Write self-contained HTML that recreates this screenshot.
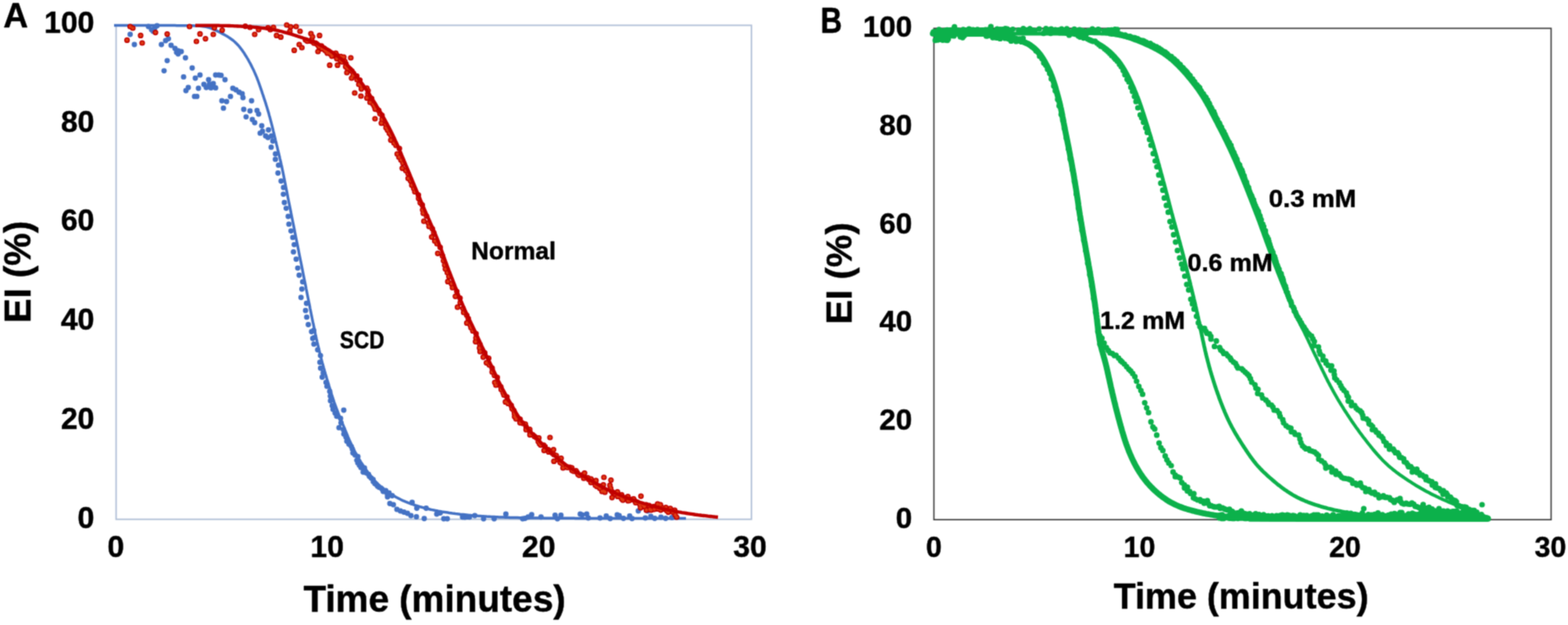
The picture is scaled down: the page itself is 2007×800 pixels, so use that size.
<!DOCTYPE html>
<html lang="en">
<head>
<meta charset="utf-8">
<title>EI (%) versus Time (minutes)</title>
<style>
html,body{margin:0;padding:0;background:#fff;}
body{width:2007px;height:800px;overflow:hidden;}
svg{display:block;}
text{font-family:"Liberation Sans",sans-serif;font-weight:700;fill:#000;stroke:#000;stroke-width:0.5px;stroke-linejoin:round;}
</style>
</head>
<body>
<svg width="2007" height="800" viewBox="0 0 2007 800" role="img" aria-label="Panel A: EI (%) versus time in minutes for SCD and Normal. Panel B: EI (%) versus time for 0.3, 0.6 and 1.2 mM.">
<defs><filter id="soft" x="0" y="0" width="100%" height="100%" filterUnits="userSpaceOnUse" color-interpolation-filters="sRGB"><feConvolveMatrix order="3" kernelMatrix="0.0400 0.1200 0.0400 0.1200 0.3600 0.1200 0.0400 0.1200 0.0400" edgeMode="duplicate" preserveAlpha="true"/></filter></defs>
<g id="all" filter="url(#soft)">
<rect width="2007" height="800" fill="#fff"/>
<g id="plots">
<rect x="148.6" y="32.4" width="813.2" height="632.3" fill="none" stroke="#b1c0d7" stroke-width="1.9"/>
<path d="M166.6 44h0M172 57h0M190 34h0M194 38h0M198 36h0M201 33h0M196 40h0M206.6 57h0M212 52h0M215.6 49.6h0M219 58h0M224 62h0M228 65h0M228 69h0M232 66h0M226 67h0M237.4 74h0M214 77.6h0M210 90.6h0M246 87h0M235 98.4h0M250 100h0M256 96h0M276 96h0M280 96h0M283 96.4h0M288 102h0M267 102h0M261 108h0M268 108h0M273 107h0M264 112h0M270 112.4h0M276 112.4h0M254 113h0M241 112h0M238 116h0M249 123.4h0M252 123.4h0M298 113h0M302 115h0M306 118h0M310 120h0M311 125h0M295 123.4h0M284 129h0M290 130h0M322 129h0M286 138.4h0M312 140h0M320 142h0M329 141.4h0M331 146h0M315 149.6h0M323 153h0M326 157h0M335 161h0M336 168h0M333 170.4h0M340 174h0M343 176h0M343.6 166.2h0M347.5 173.9h0M349.2 180.5h0M347.1 188.4h0M352.6 196.9h0M352.5 203.9h0M356.5 211.4h0M355.8 221.5h0M359.8 231.8h0M362.9 240h0M362.7 248.6h0M364 259.2h0M366.3 266.6h0M368.9 277h0M369.8 286.9h0M372.5 295.6h0M374.8 303.9h0M376.6 313.1h0M375.6 322.4h0M379.1 331.8h0M381.1 343.1h0M382.9 352.2h0M387.4 360.7h0M386.4 370h0M385.3 380.8h0M392.3 388.3h0M391.1 397.4h0M392.6 405.9h0M394.6 415.5h0M398.8 424.5h0M400.3 433.2h0M401.5 423h0M402 432.1h0M401.8 440.4h0M406.6 447.8h0M410.2 455.1h0M409.5 463.7h0M410.3 471.2h0M413.7 477.3h0M412.4 482.8h0M417.3 489.5h0M418.5 494.4h0M422 501h0M422.8 506.9h0M423 512.9h0M425.2 519.3h0M426.3 524h0M428.9 528.8h0M430.9 532.7h0M435.9 535.5h0M436.5 541.3h0M433.9 547.4h0M439.6 550h0M440.1 555.6h0M442.8 559.4h0M443.9 564.7h0M446.6 568.5h0M449.7 571.6h0M450.9 574.8h0M451.7 579.8h0M454.5 582.4h0M458.1 584.4h0M456.7 589.1h0M458 592.6h0M460 595.4h0M462 598.4h0M466.5 598.9h0M464.8 604.2h0M468.8 605.2h0M471.7 607.3h0M472.8 609.7h0M475.1 611.9h0M477.5 613.6h0M477.8 616.5h0M479.8 619h0M481.9 620.4h0M483.4 622.5h0M485.3 623.7h0M487.6 624.6h0M489.2 626.2h0M490.5 629h0M493.7 627.9h0M494.9 630.2h0M495.9 633.2h0M496 636h0M499 644.5h0M503.5 646h0M508 652h0M512.5 654h0M517 655.5h0M521.5 657h0M526 660h0M533 661.5h0M543 663.7h0M568 664h0M572.5 664h0M498 631h0M502 634.5h0M527.5 643h0M533.5 650.5h0M545.5 650.5h0M559 658h0M563.5 656.5h0M592 661.7h0M595 662h0M598 661.5h0M601 661.7h0M607.7 660h0M619 664h0M632.5 664h0M647.5 658h0M669 664h0M672 663.5h0M676 661.7h0M680.5 658.7h0M692.5 661.7h0M710.5 659.5h0M718 659.5h0M713.5 664h0M742.7 658h0M745 659h0M751 658h0M753 663h0M768 663h0M776 660.5h0M781 663.8h0M790 659h0M792.5 660h0M798 663.5h0M806 660.5h0M809 663.8h0M826 663h0M833 661h0M838 663.5h0M846 662h0M852 663.5h0M860 662.5h0M440 525h0M817 654h0M829 654h0" fill="none" stroke="#4472c4" stroke-width="6.9" stroke-linecap="round"/>
<path d="M146 32.6 L150.7 32.6 L151.9 32.6 L153.3 32.6 L154.9 32.6 L156.6 32.6 L158.4 32.6 L160.2 32.6 L162.1 32.6 L164.1 32.6 L166 32.6 L168 32.6 L170 32.6 L172 32.6 L174 32.6 L176 32.6 L178 32.6 L180 32.6 L182 32.6 L184 32.6 L186 32.6 L188 32.6 L190 32.6 L192 32.6 L194 32.6 L196 32.6 L198 32.6 L200 32.6 L202 32.6 L204 32.6 L206 32.6 L208 32.6 L210 32.6 L212 32.6 L214 32.6 L216 32.6 L218 32.6 L220 32.6 L222 32.6 L224 32.6 L226 32.7 L228 32.7 L230 32.7 L232 32.7 L234 32.7 L236 32.7 L238 32.7 L240 32.7 L242 32.8 L244 32.8 L246 32.8 L248 32.9 L250 32.9 L252 33 L254 33.1 L256 33.3 L258 33.4 L259.9 33.7 L261.8 34 L263.8 34.3 L265.6 34.8 L267.5 35.3 L269.4 35.9 L271.2 36.6 L273 37.3 L274.8 38.1 L276.6 39 L278.4 39.9 L280.2 40.8 L282 41.7 L283.8 42.6 L285.6 43.6 L287.3 44.5 L289 45.5 L290.8 46.5 L292.5 47.6 L294.1 48.7 L295.7 49.8 L297.3 51 L298.9 52.2 L300.4 53.5 L301.8 54.9 L303.2 56.2 L304.6 57.7 L305.9 59.2 L307.1 60.7 L308.4 62.3 L309.6 63.8 L310.7 65.5 L311.9 67.1 L313 68.8 L314 70.5 L315.1 72.2 L316.1 73.9 L317.2 75.6 L318.1 77.3 L319.1 79.1 L320.1 80.8 L321 82.6 L321.9 84.4 L322.8 86.2 L323.7 88 L324.6 89.8 L325.4 91.6 L326.2 93.4 L327 95.2 L327.8 97.1 L328.6 98.9 L329.3 100.8 L330 102.6 L330.7 104.5 L331.4 106.4 L332.1 108.3 L332.7 110.2 L333.4 112.1 L334 114 L334.7 115.8 L335.3 117.7 L335.9 119.6 L336.6 121.5 L337.2 123.4 L337.8 125.3 L338.4 127.2 L339.1 129.1 L339.7 131 L340.3 132.9 L340.9 134.9 L341.5 136.8 L342.1 138.7 L342.6 140.6 L343.2 142.5 L343.8 144.4 L344.3 146.4 L344.8 148.3 L345.4 150.2 L345.9 152.1 L346.4 154.1 L346.9 156 L347.4 157.9 L347.9 159.9 L348.4 161.8 L348.9 163.8 L349.4 165.7 L349.8 167.6 L350.3 169.6 L350.8 171.5 L351.2 173.5 L351.7 175.4 L352.2 177.4 L352.6 179.3 L353.1 181.3 L353.6 183.2 L354 185.1 L354.5 187.1 L355 189 L355.4 191 L355.9 192.9 L356.4 194.9 L356.9 196.8 L357.3 198.8 L357.8 200.7 L358.2 202.6 L358.7 204.6 L359.1 206.5 L359.6 208.5 L360 210.4 L360.5 212.4 L360.9 214.4 L361.3 216.3 L361.7 218.3 L362.1 220.2 L362.5 222.2 L362.9 224.1 L363.3 226.1 L363.7 228.1 L364.1 230 L364.5 232 L364.9 234 L365.2 235.9 L365.6 237.9 L366 239.8 L366.4 241.8 L366.8 243.8 L367.2 245.7 L367.6 247.7 L367.9 249.7 L368.3 251.6 L368.7 253.6 L369.1 255.5 L369.5 257.5 L369.9 259.5 L370.3 261.4 L370.7 263.4 L371.1 265.3 L371.5 267.3 L371.9 269.3 L372.2 271.2 L372.6 273.2 L373 275.2 L373.4 277.1 L373.8 279.1 L374.2 281 L374.6 283 L375 285 L375.4 286.9 L375.8 288.9 L376.2 290.8 L376.6 292.8 L377 294.8 L377.3 296.7 L377.7 298.7 L378.1 300.6 L378.5 302.6 L378.9 304.6 L379.3 306.5 L379.7 308.5 L380.1 310.5 L380.5 312.4 L380.9 314.4 L381.3 316.3 L381.7 318.3 L382.1 320.3 L382.4 322.2 L382.8 324.2 L383.2 326.1 L383.6 328.1 L384 330.1 L384.4 332 L384.8 334 L385.2 335.9 L385.6 337.9 L386 339.9 L386.4 341.8 L386.8 343.8 L387.2 345.8 L387.5 347.7 L387.9 349.7 L388.3 351.6 L388.7 353.6 L389.1 355.6 L389.5 357.5 L389.9 359.5 L390.3 361.4 L390.7 363.4 L391.1 365.4 L391.5 367.3 L391.8 369.3 L392.2 371.2 L392.6 373.2 L393 375.2 L393.4 377.1 L393.8 379.1 L394.2 381.1 L394.6 383 L395 385 L395.4 386.9 L395.8 388.9 L396.2 390.9 L396.6 392.8 L396.9 394.8 L397.3 396.7 L397.7 398.7 L398.1 400.7 L398.5 402.6 L398.9 404.6 L399.3 406.5 L399.7 408.5 L400.1 410.5 L400.5 412.4 L401 414.4 L401.4 416.3 L401.8 418.3 L402.2 420.3 L402.6 422.2 L403 424.2 L403.4 426.1 L403.8 428.1 L404.3 430 L404.7 432 L405.1 433.9 L405.6 435.9 L406 437.8 L406.5 439.8 L406.9 441.7 L407.4 443.7 L407.8 445.6 L408.3 447.6 L408.8 449.5 L409.2 451.5 L409.7 453.4 L410.2 455.3 L410.7 457.3 L411.2 459.2 L411.7 461.2 L412.2 463.1 L412.7 465 L413.3 466.9 L413.8 468.9 L414.3 470.8 L414.9 472.7 L415.4 474.7 L416 476.6 L416.5 478.5 L417.1 480.4 L417.7 482.3 L418.2 484.2 L418.8 486.2 L419.4 488.1 L420 490 L420.6 491.9 L421.1 493.8 L421.7 495.7 L422.3 497.7 L422.9 499.6 L423.5 501.5 L424 503.4 L424.6 505.3 L425.2 507.2 L425.9 509.1 L426.5 511 L427.1 512.9 L427.7 514.8 L428.4 516.7 L429.1 518.6 L429.8 520.4 L430.4 522.3 L431.2 524.2 L431.9 526 L432.6 527.9 L433.3 529.8 L434.1 531.6 L434.8 533.5 L435.6 535.3 L436.3 537.2 L437.1 539 L437.9 540.9 L438.6 542.7 L439.4 544.6 L440.2 546.4 L440.9 548.3 L441.7 550.1 L442.5 552 L443.2 553.8 L444 555.7 L444.8 557.5 L445.5 559.4 L446.3 561.2 L447.1 563.1 L447.9 564.9 L448.8 566.7 L449.6 568.5 L450.4 570.3 L451.3 572.1 L452.2 573.9 L453.1 575.7 L454 577.5 L454.9 579.2 L455.9 581 L456.8 582.8 L457.8 584.5 L458.8 586.2 L459.8 588 L460.9 589.7 L461.9 591.4 L463 593.1 L464.1 594.7 L465.2 596.4 L466.3 598.1 L467.4 599.7 L468.6 601.3 L469.8 603 L471 604.6 L472.2 606.2 L473.4 607.7 L474.6 609.3 L475.9 610.8 L477.2 612.4 L478.5 613.9 L479.8 615.4 L481.2 616.9 L482.5 618.3 L483.9 619.7 L485.4 621.1 L486.8 622.5 L488.3 623.8 L489.8 625.1 L491.4 626.3 L492.9 627.5 L494.5 628.7 L496.2 629.8 L497.8 630.9 L499.5 632 L501.2 633.1 L502.9 634.1 L504.7 635.1 L506.4 636.1 L508.2 637 L509.9 637.9 L511.7 638.8 L513.5 639.7 L515.3 640.6 L517.2 641.4 L519 642.2 L520.8 642.9 L522.7 643.7 L524.6 644.4 L526.4 645.1 L528.3 645.7 L530.2 646.3 L532.1 647 L534 647.5 L535.9 648.1 L537.9 648.7 L539.8 649.2 L541.7 649.8 L543.6 650.3 L545.6 650.8 L547.5 651.2 L549.5 651.7 L551.4 652.2 L553.4 652.6 L555.3 653 L557.3 653.4 L559.2 653.8 L561.2 654.2 L563.2 654.5 L565.1 654.9 L567.1 655.2 L569.1 655.5 L571.1 655.8 L573 656.1 L575 656.4 L577 656.7 L579 657 L581 657.2 L582.9 657.5 L584.9 657.7 L586.9 657.9 L588.9 658.2 L590.9 658.4 L592.9 658.6 L594.9 658.8 L596.9 659 L598.8 659.2 L600.8 659.4 L602.8 659.6 L604.8 659.7 L606.8 659.9 L608.8 660.1 L610.8 660.2 L612.8 660.4 L614.8 660.5 L616.8 660.7 L618.8 660.8 L620.8 660.9 L622.8 661.1 L624.8 661.2 L626.8 661.3 L628.8 661.4 L630.8 661.5 L632.8 661.6 L634.8 661.7 L636.8 661.8 L638.8 661.9 L640.8 662 L642.7 662.1 L644.7 662.1 L646.7 662.2 L648.7 662.3 L650.7 662.3 L652.7 662.4 L654.7 662.4 L656.7 662.5 L658.7 662.5 L660.7 662.6 L662.7 662.6 L664.7 662.7 L666.7 662.7 L668.7 662.8 L670.7 662.8 L672.7 662.8 L674.7 662.9 L676.7 662.9 L678.7 662.9 L680.7 663 L682.7 663 L684.7 663 L686.7 663.1 L688.7 663.1 L690.7 663.1 L692.7 663.1 L694.7 663.1 L696.7 663.2 L698.7 663.2 L700.7 663.2 L702.7 663.2 L704.7 663.2 L706.7 663.2 L708.7 663.2 L710.7 663.3 L712.7 663.3 L714.7 663.3 L716.7 663.3 L718.7 663.3 L720.7 663.3 L722.7 663.3 L724.7 663.3 L726.7 663.3 L728.7 663.3 L730.7 663.3 L732.7 663.3 L734.7 663.3 L736.7 663.4 L738.7 663.4 L740.7 663.4 L742.7 663.4 L744.7 663.4 L746.7 663.4 L748.7 663.4 L750.7 663.4 L752.7 663.4 L754.7 663.4 L756.7 663.4 L758.7 663.4 L760.7 663.4 L762.7 663.4 L764.7 663.4 L766.7 663.4 L768.7 663.4 L770.7 663.4 L772.7 663.4 L774.7 663.5 L776.7 663.5 L778.7 663.5 L780.7 663.5 L782.7 663.5 L784.7 663.5 L786.7 663.5 L788.7 663.5 L790.7 663.5 L792.7 663.5 L794.7 663.5 L796.7 663.5 L798.7 663.5 L800.7 663.5 L802.7 663.5 L804.7 663.5 L806.7 663.5 L808.7 663.5 L810.7 663.5 L812.7 663.5 L814.7 663.5 L816.7 663.5 L818.7 663.5 L820.7 663.5 L822.7 663.5 L824.7 663.5 L826.7 663.5 L828.7 663.5 L830.7 663.5 L832.7 663.6 L834.7 663.6 L836.7 663.6 L838.7 663.6 L840.7 663.6 L842.7 663.6 L844.7 663.6 L846.7 663.6 L848.7 663.6 L850.7 663.6 L852.7 663.6 L854.7 663.6 L856.7 663.6 L858.7 663.6 L860.6 663.6 L862.6 663.6 L864.5 663.6 L866.3 663.6 L868 663.6 L869.7 663.6 L871.2 663.6 L872.5 663.6 L873.7 663.6 L878 663.6" fill="none" stroke="#4472c4" stroke-width="3.5" stroke-linejoin="round"/>
<path d="M166.6 34h0M170 36h0M162.6 51.4h0M180 45.4h0M182 55h0M199 41.6h0M214 43.6h0M242.6 34h0M256 43.4h0M251.4 53h0M263 49.6h0M273 44h0M274.4 35.6h0M284.4 38.6h0M314 33.6h0M320 35h0M326 44h0M331 38h0M343 35.6h0M346 38h0M350 35h0M354 45.4h0M359.4 47.4h0M367 32h0M372 34.4h0M379 34h0M371 40h0M384 40h0M383 57h0M376.6 64.4h0M386.4 61h0M391 51h0M398 43h0M400 47h0M409 45.4h0M407 66h0M422 83.4h0M432 83.4h0M449 74h0M440 73h0M444 93h0M450 100h0M454 119h0M462 123h0M480 152h0M704 560h0M773 611h0M782 614.5h0M392 51.4h0M393.4 52.7h0M395.9 52.4h0M398.8 51.4h0M399.8 53.3h0M401.7 55.1h0M403.8 55.1h0M405.3 56.2h0M406.9 57.7h0M408.4 59.9h0M411.5 58.9h0M412.1 62.4h0M415 61.8h0M415.8 64.3h0M417.7 65.7h0M419 67.9h0M421.3 67.9h0M423.1 69.2h0M424.8 71.8h0M429.8 68.1h0M431.1 70.7h0M431 75.1h0M436.3 72.3h0M435.8 77.4h0M437.7 79.1h0M441.4 78.6h0M442.8 81.7h0M442.4 85.3h0M444.7 87.7h0M448.2 88.8h0M450.4 90.9h0M452.3 93.6h0M452 96.7h0M456.7 97.4h0M457 102h0M460.6 102.6h0M459.3 108h0M462.1 109.7h0M462.5 113.8h0M469.5 112.8h0M471.1 116.1h0M470.9 120.1h0M469.6 125.4h0M475.7 126.1h0M473.7 131h0M477.6 133.5h0M479.1 136h0M480.2 139.6h0M484.8 141.4h0M486.4 145.5h0M488.9 147.6h0M489.1 152.8h0M488.1 157.6h0M493.6 159.1h0M494.1 163.5h0M496 166.6h0M498.3 170.4h0M500.6 173.6h0M500.2 179.3h0M504.3 183h0M506.8 185.9h0M511.2 190h0M508.4 197.1h0M510.7 201.2h0M513.2 204.8h0M515.7 208.7h0M514.9 215.3h0M519.4 218.3h0M522.3 222.3h0M522.4 228.3h0M525.5 231.6h0M527.1 236.9h0M529.7 241.4h0M531 245.5h0M535.5 249.6h0M535.8 253.9h0M537.9 259.4h0M540.5 262.4h0M541 268.7h0M541.8 272.9h0M545.9 276.5h0M542.6 283.2h0M548.3 285.5h0M549.1 289.8h0M553.4 292.8h0M555.2 297.9h0M552.5 303.3h0M556.5 308.5h0M559.4 312h0M563.4 316.6h0M560.3 324.3h0M566.4 327.7h0M567.7 333.7h0M569.2 339.2h0M570.1 344.3h0M572.6 349h0M574.6 353.9h0M573.2 360.4h0M577.9 363.2h0M579.2 368.2h0M584.7 373h0M582.9 379.3h0M588.8 381.6h0M589.1 387.4h0M585.6 393.2h0M592.6 394.8h0M593.5 400h0M597.4 403.5h0M599.3 407.5h0M597.5 413.4h0M601.9 415.9h0M602.9 419.5h0M605.2 423.4h0M609.3 427.1h0M609.2 432.7h0M608.7 437.3h0M614.1 440.5h0M613.8 445.4h0M614.5 449.9h0M620.4 451.7h0M618.5 457.1h0M625.5 458.6h0M622.6 464.3h0M626.2 467.1h0M629.9 471.2h0M630 476.2h0M632.9 480.4h0M636.5 483h0M633.3 489.5h0M634.8 493h0M641 495.1h0M641.5 498.6h0M643.9 502.5h0M645 505.6h0M648.9 508h0M647 514.4h0M650.4 516.4h0M654.3 518.9h0M655.4 522.9h0M657.7 525.6h0M658.5 529.5h0M658.7 533.3h0M660.6 536.2h0M665.7 536.7h0M665.6 541.1h0M669.1 541.8h0M672.4 542.9h0M673.4 546.3h0M673.4 549.9h0M678 549.6h0M678.3 552.7h0M678.3 556.6h0M682 556.6h0M683.9 558.4h0M686.3 560.1h0M689.7 560.6h0M689 565.3h0M690.6 567.9h0M692 569.6h0M696 569.8h0M697.6 571.5h0M696.4 576.6h0M701.7 575.7h0M702.3 578.4h0M708.5 575.5h0M707.4 580.5h0M709.1 582h0M712 583h0M709 590.4h0M713.7 588.2h0M718.2 586.6h0M717 592h0M719 593.2h0M720.8 594.6h0M720.7 599h0M725 597.3h0M726.4 598.5h0M729.2 598.1h0M731.9 598.9h0M732.1 602.1h0M734.2 603.2h0M737.3 602.6h0M738.7 604.8h0M739.9 607.3h0M741.4 608.5h0M744.4 608h0M748.2 605.5h0M747.2 612.2h0M749.6 611.7h0M752.4 611.5h0M753.5 613.6h0M756.5 613.1h0M756.3 617.6h0M759.2 617.3h0M762.8 615.2h0M762.1 621.2h0M764 622.7h0M766.9 622.1h0M767.7 624.9h0M772.3 620.6h0M770.6 628.9h0M773.8 627.3h0M774.3 629.9h0M780.7 621.2h0M781.7 625.2h0M782.4 628.3h0M784 629.9h0M783.4 636.8h0M787.2 632.2h0M790.3 629.6h0M790.6 635.4h0M793 635.2h0M795.6 633.3h0M795.7 638.4h0M797.3 640.2h0M801.1 636.9h0M803.7 635.5h0M803.9 640.9h0M805.6 640.6h0M808.3 639.3h0M811 638.5h0M812.1 640.6h0M813.7 643.5h0M815.8 642.9h0M820.4 635.1h0M819 645.8h0M819.9 649.9h0M822.8 646.1h0M824.7 648.3h0M827 646.2h0M827.3 652.9h0M830.8 647.2h0M831.8 652.1h0M833.4 653h0M836.9 648.4h0M837.6 651.8h0M841.7 645.2h0M842.2 651.4h0M845.3 646.1h0M845.7 652.8h0M848.2 650.2h0M849.9 651.4h0M852.3 649.7h0M853.5 653.7h0M855.3 655.6h0M858 650.9h0M859.6 653.2h0M861 655.3h0M863.6 653h0M864.2 659.1h0M866.1 662h0" fill="none" stroke="#c00000" stroke-width="7.2" stroke-linecap="round"/>
<path d="M166.6 34h0M170 36h0M162.6 51.4h0M180 45.4h0M182 55h0M199 41.6h0M214 43.6h0M242.6 34h0M256 43.4h0M251.4 53h0M263 49.6h0M273 44h0M274.4 35.6h0M284.4 38.6h0M314 33.6h0M320 35h0M326 44h0M331 38h0M343 35.6h0M346 38h0M350 35h0M354 45.4h0M359.4 47.4h0M367 32h0M372 34.4h0M379 34h0M371 40h0M384 40h0M383 57h0M376.6 64.4h0M386.4 61h0M391 51h0M398 43h0M400 47h0M409 45.4h0M407 66h0M422 83.4h0M432 83.4h0M449 74h0M440 73h0M444 93h0M450 100h0M454 119h0M462 123h0M480 152h0M704 560h0M773 611h0M782 614.5h0M392 51.4h0M393.4 52.7h0M395.9 52.4h0M398.8 51.4h0M399.8 53.3h0M401.7 55.1h0M403.8 55.1h0M405.3 56.2h0M406.9 57.7h0M408.4 59.9h0M411.5 58.9h0M412.1 62.4h0M415 61.8h0M415.8 64.3h0M417.7 65.7h0M419 67.9h0M421.3 67.9h0M423.1 69.2h0M424.8 71.8h0M429.8 68.1h0M431.1 70.7h0M431 75.1h0M436.3 72.3h0M435.8 77.4h0M437.7 79.1h0M441.4 78.6h0M442.8 81.7h0M442.4 85.3h0M444.7 87.7h0M448.2 88.8h0M450.4 90.9h0M452.3 93.6h0M452 96.7h0M456.7 97.4h0M457 102h0M460.6 102.6h0M459.3 108h0M462.1 109.7h0M462.5 113.8h0M469.5 112.8h0M471.1 116.1h0M470.9 120.1h0M469.6 125.4h0M475.7 126.1h0M473.7 131h0M477.6 133.5h0M479.1 136h0M480.2 139.6h0M484.8 141.4h0M486.4 145.5h0M488.9 147.6h0M489.1 152.8h0M488.1 157.6h0M493.6 159.1h0M494.1 163.5h0M496 166.6h0M498.3 170.4h0M500.6 173.6h0M500.2 179.3h0M504.3 183h0M506.8 185.9h0M511.2 190h0M508.4 197.1h0M510.7 201.2h0M513.2 204.8h0M515.7 208.7h0M514.9 215.3h0M519.4 218.3h0M522.3 222.3h0M522.4 228.3h0M525.5 231.6h0M527.1 236.9h0M529.7 241.4h0M531 245.5h0M535.5 249.6h0M535.8 253.9h0M537.9 259.4h0M540.5 262.4h0M541 268.7h0M541.8 272.9h0M545.9 276.5h0M542.6 283.2h0M548.3 285.5h0M549.1 289.8h0M553.4 292.8h0M555.2 297.9h0M552.5 303.3h0M556.5 308.5h0M559.4 312h0M563.4 316.6h0M560.3 324.3h0M566.4 327.7h0M567.7 333.7h0M569.2 339.2h0M570.1 344.3h0M572.6 349h0M574.6 353.9h0M573.2 360.4h0M577.9 363.2h0M579.2 368.2h0M584.7 373h0M582.9 379.3h0M588.8 381.6h0M589.1 387.4h0M585.6 393.2h0M592.6 394.8h0M593.5 400h0M597.4 403.5h0M599.3 407.5h0M597.5 413.4h0M601.9 415.9h0M602.9 419.5h0M605.2 423.4h0M609.3 427.1h0M609.2 432.7h0M608.7 437.3h0M614.1 440.5h0M613.8 445.4h0M614.5 449.9h0M620.4 451.7h0M618.5 457.1h0M625.5 458.6h0M622.6 464.3h0M626.2 467.1h0M629.9 471.2h0M630 476.2h0M632.9 480.4h0M636.5 483h0M633.3 489.5h0M634.8 493h0M641 495.1h0M641.5 498.6h0M643.9 502.5h0M645 505.6h0M648.9 508h0M647 514.4h0M650.4 516.4h0M654.3 518.9h0M655.4 522.9h0M657.7 525.6h0M658.5 529.5h0M658.7 533.3h0M660.6 536.2h0M665.7 536.7h0M665.6 541.1h0M669.1 541.8h0M672.4 542.9h0M673.4 546.3h0M673.4 549.9h0M678 549.6h0M678.3 552.7h0M678.3 556.6h0M682 556.6h0M683.9 558.4h0M686.3 560.1h0M689.7 560.6h0M689 565.3h0M690.6 567.9h0M692 569.6h0M696 569.8h0M697.6 571.5h0M696.4 576.6h0M701.7 575.7h0M702.3 578.4h0M708.5 575.5h0M707.4 580.5h0M709.1 582h0M712 583h0M709 590.4h0M713.7 588.2h0M718.2 586.6h0M717 592h0M719 593.2h0M720.8 594.6h0M720.7 599h0M725 597.3h0M726.4 598.5h0M729.2 598.1h0M731.9 598.9h0M732.1 602.1h0M734.2 603.2h0M737.3 602.6h0M738.7 604.8h0M739.9 607.3h0M741.4 608.5h0M744.4 608h0M748.2 605.5h0M747.2 612.2h0M749.6 611.7h0M752.4 611.5h0M753.5 613.6h0M756.5 613.1h0M756.3 617.6h0M759.2 617.3h0M762.8 615.2h0M762.1 621.2h0M764 622.7h0M766.9 622.1h0M767.7 624.9h0M772.3 620.6h0M770.6 628.9h0M773.8 627.3h0M774.3 629.9h0M780.7 621.2h0M781.7 625.2h0M782.4 628.3h0M784 629.9h0M783.4 636.8h0M787.2 632.2h0M790.3 629.6h0M790.6 635.4h0M793 635.2h0M795.6 633.3h0M795.7 638.4h0M797.3 640.2h0M801.1 636.9h0M803.7 635.5h0M803.9 640.9h0M805.6 640.6h0M808.3 639.3h0M811 638.5h0M812.1 640.6h0M813.7 643.5h0M815.8 642.9h0M820.4 635.1h0M819 645.8h0M819.9 649.9h0M822.8 646.1h0M824.7 648.3h0M827 646.2h0M827.3 652.9h0M830.8 647.2h0M831.8 652.1h0M833.4 653h0M836.9 648.4h0M837.6 651.8h0M841.7 645.2h0M842.2 651.4h0M845.3 646.1h0M845.7 652.8h0M848.2 650.2h0M849.9 651.4h0M852.3 649.7h0M853.5 653.7h0M855.3 655.6h0M858 650.9h0M859.6 653.2h0M861 655.3h0M863.6 653h0M864.2 659.1h0M866.1 662h0" fill="none" stroke="#de3a12" stroke-width="4.2" stroke-linecap="round"/>
<path d="M250 32.6 L254.7 32.6 L255.9 32.6 L257.4 32.6 L258.9 32.6 L260.6 32.6 L262.4 32.6 L264.2 32.6 L266.1 32.6 L268.1 32.6 L270 32.7 L272 32.7 L274 32.7 L276 32.7 L278 32.7 L280 32.7 L282 32.8 L284 32.8 L286 32.8 L288 32.9 L290 32.9 L292 33 L294 33 L296 33.1 L298 33.2 L300 33.3 L302 33.4 L304 33.5 L306 33.6 L308 33.7 L310 33.8 L312 33.9 L314 34.1 L316 34.2 L318 34.3 L320 34.4 L322 34.6 L324 34.7 L326 34.9 L328 35 L329.9 35.2 L331.9 35.4 L333.9 35.6 L335.9 35.8 L337.9 36 L339.9 36.3 L341.8 36.5 L343.8 36.8 L345.8 37.1 L347.8 37.5 L349.7 37.9 L351.7 38.3 L353.6 38.7 L355.6 39.1 L357.5 39.6 L359.5 40 L361.4 40.5 L363.3 41.1 L365.3 41.6 L367.2 42.1 L369.1 42.7 L371 43.2 L372.9 43.8 L374.9 44.4 L376.8 45 L378.7 45.6 L380.6 46.2 L382.5 46.9 L384.4 47.5 L386.3 48.1 L388.2 48.8 L390 49.5 L391.9 50.1 L393.8 50.8 L395.7 51.5 L397.5 52.3 L399.4 53 L401.2 53.8 L403.1 54.6 L404.9 55.4 L406.7 56.2 L408.5 57.1 L410.3 58 L412.1 58.9 L413.8 59.8 L415.6 60.8 L417.3 61.8 L419.1 62.8 L420.8 63.8 L422.5 64.9 L424.1 66 L425.8 67.1 L427.4 68.2 L429 69.4 L430.6 70.6 L432.2 71.8 L433.8 73.1 L435.3 74.3 L436.8 75.6 L438.3 77 L439.8 78.3 L441.2 79.7 L442.6 81.1 L444 82.5 L445.3 84 L446.7 85.5 L448 87 L449.3 88.5 L450.6 90 L451.9 91.6 L453.1 93.1 L454.4 94.7 L455.6 96.3 L456.8 97.9 L458 99.5 L459.2 101.1 L460.4 102.7 L461.6 104.3 L462.7 106 L463.9 107.6 L465.1 109.2 L466.2 110.9 L467.3 112.5 L468.5 114.2 L469.6 115.8 L470.7 117.5 L471.8 119.2 L472.9 120.8 L474 122.5 L475 124.2 L476.1 125.9 L477.2 127.6 L478.3 129.3 L479.3 131 L480.4 132.7 L481.4 134.4 L482.4 136.1 L483.5 137.8 L484.5 139.5 L485.5 141.2 L486.6 143 L487.6 144.7 L488.6 146.4 L489.6 148.2 L490.6 149.9 L491.6 151.6 L492.6 153.4 L493.5 155.1 L494.5 156.9 L495.5 158.6 L496.4 160.4 L497.3 162.2 L498.3 163.9 L499.2 165.7 L500.1 167.5 L501 169.3 L501.9 171 L502.7 172.8 L503.6 174.6 L504.5 176.4 L505.3 178.3 L506.1 180.1 L507 181.9 L507.8 183.7 L508.6 185.5 L509.4 187.4 L510.2 189.2 L511 191 L511.8 192.9 L512.6 194.7 L513.4 196.6 L514.1 198.4 L514.9 200.3 L515.7 202.1 L516.5 203.9 L517.2 205.8 L518 207.6 L518.8 209.5 L519.5 211.3 L520.3 213.2 L521.1 215 L521.9 216.9 L522.6 218.7 L523.4 220.6 L524.2 222.4 L525 224.3 L525.7 226.1 L526.5 227.9 L527.3 229.8 L528 231.6 L528.8 233.5 L529.6 235.3 L530.3 237.2 L531.1 239 L531.9 240.9 L532.6 242.7 L533.4 244.6 L534.2 246.4 L534.9 248.3 L535.7 250.1 L536.5 252 L537.2 253.8 L538 255.7 L538.8 257.5 L539.6 259.3 L540.3 261.2 L541.1 263 L541.9 264.9 L542.7 266.7 L543.5 268.5 L544.3 270.4 L545.1 272.2 L545.9 274 L546.7 275.9 L547.6 277.7 L548.4 279.5 L549.2 281.3 L550 283.2 L550.8 285 L551.6 286.8 L552.4 288.6 L553.3 290.5 L554.1 292.3 L554.9 294.1 L555.6 296 L556.4 297.8 L557.2 299.7 L558 301.5 L558.7 303.4 L559.5 305.2 L560.2 307.1 L560.9 308.9 L561.6 310.8 L562.3 312.7 L563 314.5 L563.7 316.4 L564.4 318.3 L565.1 320.2 L565.7 322.1 L566.4 323.9 L567.1 325.8 L567.8 327.7 L568.4 329.6 L569.1 331.5 L569.8 333.4 L570.5 335.2 L571.2 337.1 L571.9 339 L572.6 340.9 L573.3 342.7 L574 344.6 L574.7 346.5 L575.5 348.3 L576.2 350.2 L576.9 352.1 L577.6 353.9 L578.4 355.8 L579.1 357.6 L579.8 359.5 L580.5 361.4 L581.3 363.2 L582 365.1 L582.7 367 L583.5 368.8 L584.2 370.7 L584.9 372.5 L585.7 374.4 L586.4 376.3 L587.1 378.1 L587.9 380 L588.7 381.8 L589.4 383.7 L590.2 385.5 L591 387.4 L591.8 389.2 L592.6 391 L593.4 392.9 L594.2 394.7 L595 396.5 L595.8 398.3 L596.7 400.1 L597.5 401.9 L598.4 403.8 L599.2 405.6 L600.1 407.4 L600.9 409.2 L601.8 411 L602.6 412.8 L603.5 414.6 L604.4 416.4 L605.2 418.2 L606.1 420 L606.9 421.8 L607.8 423.6 L608.6 425.5 L609.5 427.3 L610.3 429.1 L611.2 430.9 L612 432.7 L612.8 434.5 L613.7 436.3 L614.5 438.2 L615.4 440 L616.2 441.8 L617 443.6 L617.9 445.4 L618.8 447.2 L619.6 449 L620.5 450.8 L621.4 452.6 L622.2 454.4 L623.1 456.2 L624 458 L624.9 459.8 L625.8 461.6 L626.7 463.4 L627.5 465.2 L628.4 467 L629.3 468.8 L630.1 470.6 L631 472.4 L631.8 474.2 L632.7 476 L633.5 477.8 L634.3 479.7 L635.2 481.5 L636 483.3 L636.9 485.1 L637.7 486.9 L638.6 488.7 L639.5 490.5 L640.4 492.3 L641.3 494.1 L642.2 495.8 L643.1 497.6 L644.1 499.4 L645 501.1 L646 502.9 L647 504.6 L647.9 506.4 L648.9 508.1 L649.9 509.9 L650.9 511.6 L651.9 513.4 L652.9 515.1 L653.9 516.9 L654.9 518.6 L655.9 520.3 L656.9 522.1 L657.9 523.8 L658.9 525.5 L659.9 527.2 L661 529 L662 530.6 L663.1 532.3 L664.2 534 L665.3 535.6 L666.4 537.3 L667.6 538.9 L668.8 540.5 L670 542 L671.2 543.6 L672.5 545.1 L673.8 546.7 L675.1 548.2 L676.4 549.7 L677.7 551.1 L679.1 552.6 L680.5 554.1 L681.8 555.6 L683.2 557 L684.6 558.5 L686 559.9 L687.4 561.4 L688.8 562.8 L690.2 564.2 L691.6 565.7 L692.9 567.1 L694.4 568.5 L695.8 570 L697.2 571.4 L698.6 572.8 L700 574.2 L701.4 575.6 L702.9 577 L704.3 578.4 L705.8 579.7 L707.3 581.1 L708.7 582.4 L710.2 583.7 L711.8 585 L713.3 586.3 L714.8 587.6 L716.4 588.9 L717.9 590.1 L719.5 591.3 L721.1 592.5 L722.7 593.7 L724.3 594.9 L725.9 596.1 L727.6 597.2 L729.2 598.3 L730.9 599.5 L732.6 600.6 L734.2 601.7 L735.9 602.7 L737.6 603.8 L739.3 604.9 L741 606 L742.7 607 L744.4 608.1 L746.1 609.1 L747.8 610.1 L749.5 611.2 L751.3 612.2 L753 613.2 L754.7 614.2 L756.4 615.2 L758.2 616.2 L759.9 617.2 L761.6 618.2 L763.4 619.2 L765.1 620.2 L766.9 621.1 L768.6 622.1 L770.4 623 L772.2 624 L774 624.9 L775.8 625.8 L777.5 626.6 L779.3 627.5 L781.2 628.3 L783 629.2 L784.8 630 L786.6 630.8 L788.4 631.6 L790.3 632.4 L792.1 633.1 L794 633.9 L795.8 634.6 L797.7 635.4 L799.6 636.1 L801.5 636.8 L803.3 637.5 L805.2 638.2 L807.1 638.9 L809 639.5 L810.9 640.2 L812.8 640.8 L814.7 641.5 L816.6 642.1 L818.5 642.7 L820.4 643.3 L822.3 643.9 L824.2 644.5 L826.1 645 L828 645.6 L829.9 646.2 L831.9 646.7 L833.8 647.3 L835.7 647.8 L837.7 648.3 L839.6 648.8 L841.5 649.3 L843.5 649.8 L845.4 650.3 L847.4 650.8 L849.3 651.2 L851.2 651.7 L853.2 652.1 L855.1 652.6 L857.1 653 L859.1 653.4 L861 653.8 L863 654.2 L864.9 654.6 L866.9 655 L868.9 655.4 L870.8 655.7 L872.8 656.1 L874.8 656.4 L876.7 656.7 L878.7 657 L880.7 657.3 L882.7 657.6 L884.6 657.9 L886.6 658.2 L888.6 658.5 L890.6 658.8 L892.6 659 L894.5 659.3 L896.5 659.5 L898.5 659.8 L900.5 660 L902.4 660.2 L904.3 660.4 L906.1 660.7 L907.9 660.9 L909.6 661 L911.2 661.2 L912.7 661.4 L914 661.5 L915.1 661.6 L919 662" fill="none" stroke="#c00000" stroke-width="4.3" stroke-linejoin="round"/>
<rect x="1195.4" y="36.3" width="790.0" height="628.9" fill="none" stroke="#3c3c3c" stroke-width="1.7"/>
<path d="M1194 43 L1198.7 43 L1200 43 L1201.4 43 L1202.9 43 L1204.6 43 L1206.4 43 L1208.3 43 L1210.2 43 L1212.1 43 L1214.1 43 L1216.1 43 L1218.1 43 L1220.1 43 L1222.1 43 L1224.1 43 L1226.1 43 L1228.1 43.1 L1230.1 43.1 L1232.1 43.1 L1234.1 43.1 L1236.1 43.1 L1238.1 43.1 L1240.1 43.1 L1242.1 43.1 L1244.1 43.1 L1246.1 43.1 L1248.1 43.1 L1250.1 43.2 L1252.1 43.2 L1254 43.2 L1256 43.2 L1258 43.2 L1260 43.3 L1262 43.3 L1264 43.3 L1266 43.4 L1268 43.5 L1270 43.6 L1272 43.7 L1274 43.9 L1276 44.1 L1277.9 44.3 L1279.9 44.6 L1281.9 44.9 L1283.8 45.2 L1285.8 45.6 L1287.8 46 L1289.7 46.4 L1291.6 46.9 L1293.6 47.4 L1295.5 48 L1297.4 48.6 L1299.3 49.2 L1301.2 49.8 L1303.1 50.5 L1304.9 51.2 L1306.8 51.9 L1308.6 52.7 L1310.4 53.5 L1312.2 54.4 L1314 55.3 L1315.8 56.2 L1317.5 57.2 L1319.1 58.3 L1320.8 59.4 L1322.4 60.6 L1323.9 61.8 L1325.4 63.1 L1326.8 64.5 L1328.1 65.9 L1329.4 67.4 L1330.7 68.9 L1331.9 70.5 L1333 72.1 L1334.1 73.7 L1335.2 75.4 L1336.2 77.1 L1337.2 78.8 L1338.2 80.6 L1339.1 82.4 L1340.1 84.1 L1341 85.9 L1341.9 87.7 L1342.7 89.5 L1343.6 91.3 L1344.4 93.2 L1345.1 95 L1345.9 96.8 L1346.6 98.7 L1347.3 100.6 L1347.9 102.5 L1348.6 104.4 L1349.2 106.3 L1349.8 108.2 L1350.4 110.1 L1350.9 112 L1351.5 113.9 L1352 115.8 L1352.6 117.8 L1353.1 119.7 L1353.6 121.6 L1354.2 123.6 L1354.7 125.5 L1355.2 127.4 L1355.7 129.4 L1356.2 131.3 L1356.6 133.2 L1357.1 135.2 L1357.5 137.1 L1358 139.1 L1358.4 141 L1358.8 143 L1359.2 145 L1359.6 146.9 L1359.9 148.9 L1360.3 150.9 L1360.7 152.8 L1361.1 154.8 L1361.4 156.7 L1361.8 158.7 L1362.2 160.7 L1362.6 162.6 L1362.9 164.6 L1363.3 166.6 L1363.7 168.5 L1364.1 170.5 L1364.5 172.5 L1364.9 174.4 L1365.3 176.4 L1365.7 178.3 L1366.1 180.3 L1366.5 182.3 L1366.9 184.2 L1367.3 186.2 L1367.7 188.1 L1368 190.1 L1368.4 192.1 L1368.8 194 L1369.2 196 L1369.6 198 L1369.9 199.9 L1370.3 201.9 L1370.7 203.8 L1371 205.8 L1371.4 207.8 L1371.8 209.7 L1372.1 211.7 L1372.5 213.7 L1372.8 215.7 L1373.2 217.6 L1373.5 219.6 L1373.9 221.6 L1374.2 223.5 L1374.6 225.5 L1374.9 227.5 L1375.2 229.4 L1375.6 231.4 L1375.9 233.4 L1376.2 235.4 L1376.5 237.3 L1376.8 239.3 L1377.2 241.3 L1377.5 243.3 L1377.8 245.2 L1378.1 247.2 L1378.4 249.2 L1378.7 251.2 L1379 253.1 L1379.3 255.1 L1379.6 257.1 L1379.9 259.1 L1380.2 261.1 L1380.4 263 L1380.7 265 L1381 267 L1381.3 269 L1381.6 271 L1381.9 272.9 L1382.2 274.9 L1382.6 276.9 L1382.9 278.9 L1383.2 280.8 L1383.5 282.8 L1383.8 284.8 L1384.2 286.8 L1384.5 288.7 L1384.8 290.7 L1385.2 292.7 L1385.5 294.6 L1385.8 296.6 L1386.2 298.6 L1386.5 300.5 L1386.9 302.5 L1387.2 304.5 L1387.6 306.5 L1387.9 308.4 L1388.3 310.4 L1388.6 312.4 L1389 314.3 L1389.3 316.3 L1389.7 318.3 L1390 320.2 L1390.4 322.2 L1390.7 324.2 L1391.1 326.1 L1391.4 328.1 L1391.8 330.1 L1392.1 332.1 L1392.5 334 L1392.8 336 L1393.2 338 L1393.5 339.9 L1393.9 341.9 L1394.2 343.9 L1394.6 345.8 L1394.9 347.8 L1395.3 349.8 L1395.6 351.8 L1395.9 353.7 L1396.3 355.7 L1396.6 357.7 L1396.9 359.6 L1397.2 361.6 L1397.6 363.6 L1397.9 365.6 L1398.2 367.5 L1398.5 369.5 L1398.8 371.5 L1399.1 373.5 L1399.4 375.4 L1399.7 377.4 L1400 379.4 L1400.3 381.4 L1400.6 383.4 L1400.9 385.3 L1401.2 387.3 L1401.5 389.3 L1401.7 391.3 L1402 393.3 L1402.3 395.2 L1402.6 397.2 L1402.8 399.2 L1403.1 401.2 L1403.3 403.2 L1403.6 405.2 L1403.8 407.2 L1404.1 409.2 L1404.3 411.1 L1404.5 413.1 L1404.7 415.1 L1405 417.1 L1405.2 419.1 L1405.4 421.1 L1405.7 423.1 L1405.9 425.1 L1406.2 427 L1406.5 429 L1406.8 431 L1407.1 433 L1407.4 434.9 L1407.8 436.9 L1408.2 438.8 L1408.6 440.8 L1409 442.7 L1409.5 444.6 L1410 446.6 L1410.5 448.5 L1411.1 450.4 L1411.6 452.3 L1412.2 454.3 L1412.7 456.2 L1413.2 458.1 L1413.8 460 L1414.3 462 L1414.8 463.9 L1415.3 465.8 L1415.8 467.8 L1416.3 469.7 L1416.7 471.7 L1417.2 473.6 L1417.6 475.6 L1418 477.5 L1418.5 479.5 L1418.9 481.4 L1419.3 483.4 L1419.8 485.3 L1420.2 487.3 L1420.6 489.3 L1421.1 491.2 L1421.5 493.2 L1421.9 495.1 L1422.4 497.1 L1422.8 499 L1423.3 501 L1423.7 502.9 L1424.2 504.9 L1424.6 506.8 L1425.1 508.7 L1425.6 510.7 L1426 512.6 L1426.5 514.6 L1427 516.5 L1427.5 518.5 L1427.9 520.4 L1428.4 522.4 L1428.9 524.3 L1429.4 526.2 L1429.9 528.2 L1430.4 530.1 L1430.9 532 L1431.4 534 L1431.9 535.9 L1432.5 537.8 L1433 539.8 L1433.5 541.7 L1434 543.6 L1434.6 545.6 L1435.1 547.5 L1435.7 549.4 L1436.2 551.3 L1436.8 553.3 L1437.4 555.2 L1437.9 557.1 L1438.5 559 L1439.1 560.9 L1439.7 562.8 L1440.3 564.7 L1441 566.6 L1441.6 568.5 L1442.3 570.4 L1443 572.3 L1443.7 574.1 L1444.4 576 L1445.1 577.9 L1445.9 579.7 L1446.7 581.6 L1447.5 583.4 L1448.3 585.2 L1449.1 587.1 L1450 588.9 L1450.9 590.7 L1451.8 592.5 L1452.7 594.3 L1453.6 596 L1454.6 597.8 L1455.6 599.5 L1456.6 601.2 L1457.6 602.9 L1458.7 604.6 L1459.8 606.3 L1460.9 607.9 L1462 609.6 L1463.2 611.2 L1464.4 612.8 L1465.6 614.4 L1466.8 615.9 L1468.1 617.5 L1469.4 619 L1470.8 620.5 L1472.1 622 L1473.5 623.4 L1474.9 624.8 L1476.3 626.2 L1477.8 627.6 L1479.3 629 L1480.7 630.3 L1482.3 631.6 L1483.8 632.9 L1485.4 634.1 L1487 635.4 L1488.6 636.6 L1490.2 637.7 L1491.9 638.9 L1493.5 640 L1495.2 641.1 L1496.9 642.1 L1498.7 643.1 L1500.4 644 L1502.2 644.9 L1503.9 645.8 L1505.7 646.6 L1507.5 647.4 L1509.4 648.2 L1511.2 648.9 L1513.1 649.6 L1514.9 650.3 L1516.8 650.9 L1518.7 651.5 L1520.7 652.1 L1522.6 652.7 L1524.5 653.2 L1526.5 653.7 L1528.4 654.2 L1530.4 654.7 L1532.3 655.2 L1534.3 655.6 L1536.2 656.1 L1538.2 656.5 L1540.2 656.9 L1542.1 657.3 L1544.1 657.7 L1546.1 658 L1548 658.4 L1550 658.8 L1552 659.1 L1554 659.4 L1555.9 659.7 L1557.9 660 L1559.9 660.3 L1561.9 660.5 L1563.9 660.8 L1565.9 661 L1567.9 661.2 L1569.8 661.4 L1571.8 661.6 L1573.8 661.8 L1575.8 661.9 L1577.8 662 L1579.8 662.2 L1581.8 662.3 L1583.8 662.4 L1585.8 662.5 L1587.8 662.6 L1589.8 662.7 L1591.8 662.8 L1593.8 662.8 L1595.8 662.9 L1597.8 663 L1599.8 663 L1601.8 663.1 L1603.8 663.1 L1605.8 663.2 L1607.8 663.3 L1609.8 663.3 L1611.8 663.3 L1613.8 663.4 L1615.8 663.4 L1617.8 663.4 L1619.8 663.5 L1621.8 663.5 L1623.8 663.5 L1625.8 663.6 L1627.8 663.6 L1629.8 663.6 L1631.8 663.6 L1633.8 663.6 L1635.8 663.7 L1637.8 663.7 L1639.8 663.7 L1641.8 663.7 L1643.8 663.7 L1645.8 663.8 L1647.8 663.8 L1649.8 663.8 L1651.8 663.8 L1653.8 663.8 L1655.8 663.8 L1657.8 663.8 L1659.8 663.9 L1661.8 663.9 L1663.8 663.9 L1665.8 663.9 L1667.8 663.9 L1669.8 663.9 L1671.8 663.9 L1673.8 663.9 L1675.8 663.9 L1677.8 663.9 L1679.8 664 L1681.8 664 L1683.8 664 L1685.8 664 L1687.8 664 L1689.8 664 L1691.8 664 L1693.8 664 L1695.8 664 L1697.8 664 L1699.8 664 L1701.8 664 L1703.8 664 L1705.8 664 L1707.8 664 L1709.8 664 L1711.8 664 L1713.8 664 L1715.8 664 L1717.8 664 L1719.8 664 L1721.8 664 L1723.8 664 L1725.8 664 L1727.8 664 L1729.8 664 L1731.8 664 L1733.8 664 L1735.8 664 L1737.8 664 L1739.8 664 L1741.8 664 L1743.8 664 L1745.8 664 L1747.8 664 L1749.8 664 L1751.8 664 L1753.8 664 L1755.8 664 L1757.8 664 L1759.8 664 L1761.8 664 L1763.8 664 L1765.8 664 L1767.8 664 L1769.8 664 L1771.8 664 L1773.8 664 L1775.8 664 L1777.8 664 L1779.8 664 L1781.8 664 L1783.8 664 L1785.8 664 L1787.8 664 L1789.8 664 L1791.8 664 L1793.8 664 L1795.8 664 L1797.8 664 L1799.8 664 L1801.8 664 L1803.8 664 L1805.8 664 L1807.8 664 L1809.8 664 L1811.8 664 L1813.8 664 L1815.8 664 L1817.8 664 L1819.8 664 L1821.8 664 L1823.8 664 L1825.8 664 L1827.8 664 L1829.8 664 L1831.8 664 L1833.8 664 L1835.8 664 L1837.8 664 L1839.8 664 L1841.8 664 L1843.8 664 L1845.8 664 L1847.8 664 L1849.8 664 L1851.8 664 L1853.8 664 L1855.8 664 L1857.8 664 L1859.8 664 L1861.8 664 L1863.8 664 L1865.8 664 L1867.8 664 L1869.8 664 L1871.8 664 L1873.8 664 L1875.8 664 L1877.8 664 L1879.8 664 L1881.8 664 L1883.8 664 L1885.7 664 L1887.7 664 L1889.6 664 L1891.5 664 L1893.3 664 L1895 664 L1896.6 664 L1898.1 664 L1899.4 664 L1900.5 664 L1904.5 664" fill="none" stroke="#0cb14b" stroke-width="7.6" stroke-linejoin="round" stroke-linecap="round"/>
<path d="M1194 43 L1198.7 43 L1199.9 43 L1201.4 43 L1202.9 43 L1204.6 43 L1206.4 43 L1208.3 43 L1210.2 43 L1212.1 43 L1214.1 43 L1216.1 43 L1218.1 43 L1220.1 43 L1222.1 43 L1224.1 43 L1226.1 43 L1228.1 43 L1230.1 43 L1232.1 43 L1234.1 43 L1236.1 43 L1238.1 43 L1240.1 43 L1242.1 43 L1244.1 43 L1246.1 43 L1248.1 43 L1250.1 43 L1252.1 43 L1254.1 43 L1256.1 43 L1258.1 43 L1260.1 43 L1262.1 43 L1264.1 43 L1266.1 43 L1268.1 43 L1270.1 43 L1272.1 43 L1274.1 43 L1276.1 43 L1278.1 43 L1280.1 43 L1282.1 43 L1284.1 43 L1286.1 43 L1288.1 43 L1290.1 43 L1292.1 43.1 L1294.1 43.1 L1296.1 43.1 L1298.1 43.1 L1300.1 43.1 L1302.1 43.1 L1304.1 43.1 L1306.1 43.1 L1308.1 43.1 L1310.1 43.1 L1312.1 43.1 L1314.1 43.1 L1316.1 43.1 L1318.1 43.1 L1320.1 43.1 L1322.1 43.1 L1324 43.1 L1326 43.1 L1328 43.1 L1330 43.1 L1332 43.1 L1334 43.1 L1336 43.1 L1338 43.1 L1340 43.1 L1342 43.2 L1344 43.2 L1346 43.2 L1348 43.2 L1350 43.2 L1352 43.2 L1354 43.2 L1356 43.3 L1358 43.3 L1360 43.4 L1362 43.4 L1364 43.5 L1366 43.7 L1368 43.8 L1370 44 L1371.9 44.2 L1373.9 44.5 L1375.9 44.8 L1377.8 45.1 L1379.8 45.5 L1381.7 45.9 L1383.7 46.4 L1385.6 46.9 L1387.5 47.5 L1389.4 48.1 L1391.3 48.7 L1393.2 49.4 L1395 50.1 L1396.9 50.8 L1398.7 51.6 L1400.5 52.4 L1402.4 53.3 L1404.1 54.2 L1405.9 55.1 L1407.6 56 L1409.4 57 L1411 58.1 L1412.7 59.2 L1414.3 60.3 L1415.9 61.5 L1417.5 62.7 L1419.1 64 L1420.6 65.2 L1422.1 66.6 L1423.5 67.9 L1424.9 69.3 L1426.3 70.8 L1427.7 72.2 L1429 73.7 L1430.3 75.2 L1431.6 76.8 L1432.8 78.3 L1434 79.9 L1435.2 81.5 L1436.3 83.2 L1437.4 84.9 L1438.4 86.5 L1439.5 88.2 L1440.5 90 L1441.5 91.7 L1442.4 93.5 L1443.4 95.2 L1444.3 97 L1445.2 98.8 L1446.1 100.6 L1446.9 102.4 L1447.8 104.2 L1448.6 106 L1449.4 107.8 L1450.3 109.7 L1451.1 111.5 L1451.9 113.3 L1452.6 115.2 L1453.4 117 L1454.2 118.9 L1454.9 120.7 L1455.6 122.6 L1456.4 124.4 L1457.1 126.3 L1457.8 128.2 L1458.5 130.1 L1459.1 131.9 L1459.8 133.8 L1460.5 135.7 L1461.1 137.6 L1461.8 139.5 L1462.4 141.4 L1463 143.3 L1463.6 145.2 L1464.3 147.1 L1464.9 149 L1465.5 150.9 L1466.1 152.8 L1466.7 154.7 L1467.3 156.6 L1467.9 158.5 L1468.5 160.4 L1469.1 162.3 L1469.7 164.3 L1470.3 166.2 L1470.8 168.1 L1471.4 170 L1472 171.9 L1472.6 173.8 L1473.2 175.7 L1473.7 177.7 L1474.3 179.6 L1474.9 181.5 L1475.5 183.4 L1476 185.3 L1476.6 187.2 L1477.1 189.2 L1477.7 191.1 L1478.3 193 L1478.8 194.9 L1479.4 196.8 L1479.9 198.8 L1480.5 200.7 L1481 202.6 L1481.6 204.5 L1482.1 206.5 L1482.6 208.4 L1483.2 210.3 L1483.7 212.2 L1484.2 214.2 L1484.8 216.1 L1485.3 218 L1485.8 220 L1486.3 221.9 L1486.9 223.8 L1487.4 225.8 L1487.9 227.7 L1488.4 229.6 L1488.9 231.6 L1489.5 233.5 L1490 235.4 L1490.5 237.3 L1491 239.3 L1491.5 241.2 L1492 243.1 L1492.5 245.1 L1493 247 L1493.6 248.9 L1494.1 250.9 L1494.6 252.8 L1495.1 254.8 L1495.6 256.7 L1496.1 258.6 L1496.6 260.6 L1497.1 262.5 L1497.6 264.4 L1498.1 266.4 L1498.6 268.3 L1499.1 270.2 L1499.6 272.2 L1500.2 274.1 L1500.7 276 L1501.2 278 L1501.7 279.9 L1502.2 281.8 L1502.7 283.8 L1503.3 285.7 L1503.8 287.6 L1504.3 289.5 L1504.9 291.5 L1505.4 293.4 L1505.9 295.3 L1506.5 297.3 L1507 299.2 L1507.5 301.1 L1508.1 303 L1508.6 305 L1509.1 306.9 L1509.7 308.8 L1510.2 310.7 L1510.7 312.7 L1511.2 314.6 L1511.7 316.5 L1512.3 318.5 L1512.8 320.4 L1513.3 322.3 L1513.8 324.3 L1514.3 326.2 L1514.8 328.2 L1515.3 330.1 L1515.8 332 L1516.3 334 L1516.7 335.9 L1517.2 337.8 L1517.7 339.8 L1518.2 341.7 L1518.7 343.7 L1519.2 345.6 L1519.6 347.6 L1520.1 349.5 L1520.6 351.4 L1521.1 353.4 L1521.6 355.3 L1522 357.3 L1522.5 359.2 L1523 361.1 L1523.5 363.1 L1523.9 365 L1524.4 367 L1524.9 368.9 L1525.3 370.9 L1525.8 372.8 L1526.3 374.8 L1526.7 376.7 L1527.2 378.6 L1527.7 380.6 L1528.1 382.5 L1528.6 384.5 L1529.1 386.4 L1529.5 388.4 L1530 390.3 L1530.4 392.3 L1530.9 394.2 L1531.3 396.2 L1531.7 398.1 L1532.2 400.1 L1532.6 402 L1533 404 L1533.4 405.9 L1533.9 407.9 L1534.3 409.9 L1534.7 411.8 L1535.1 413.8 L1535.5 415.7 L1535.9 417.7 L1536.3 419.6 L1536.7 421.6 L1537.2 423.6 L1537.6 425.5 L1538 427.5 L1538.4 429.4 L1538.8 431.4 L1539.2 433.3 L1539.6 435.3 L1540.1 437.3 L1540.5 439.2 L1540.9 441.2 L1541.3 443.1 L1541.8 445.1 L1542.2 447 L1542.6 449 L1543.1 450.9 L1543.5 452.9 L1544 454.8 L1544.5 456.8 L1545 458.7 L1545.5 460.6 L1546 462.6 L1546.5 464.5 L1547 466.4 L1547.5 468.4 L1548 470.3 L1548.6 472.2 L1549.1 474.1 L1549.7 476.1 L1550.2 478 L1550.8 479.9 L1551.4 481.8 L1552 483.7 L1552.6 485.6 L1553.2 487.6 L1553.8 489.5 L1554.4 491.4 L1555 493.3 L1555.6 495.2 L1556.3 497.1 L1556.9 499 L1557.6 500.8 L1558.2 502.7 L1558.9 504.6 L1559.6 506.5 L1560.2 508.4 L1560.9 510.3 L1561.6 512.2 L1562.3 514 L1563 515.9 L1563.8 517.8 L1564.5 519.6 L1565.2 521.5 L1566 523.4 L1566.8 525.2 L1567.5 527.1 L1568.3 528.9 L1569.1 530.7 L1569.9 532.5 L1570.7 534.4 L1571.6 536.2 L1572.4 538 L1573.3 539.8 L1574.2 541.6 L1575.1 543.3 L1576 545.1 L1576.9 546.9 L1577.9 548.6 L1578.9 550.4 L1579.8 552.1 L1580.8 553.8 L1581.8 555.6 L1582.9 557.3 L1583.9 559 L1584.9 560.7 L1586 562.4 L1587.1 564.1 L1588.1 565.8 L1589.2 567.5 L1590.3 569.2 L1591.4 570.9 L1592.5 572.6 L1593.6 574.2 L1594.7 575.9 L1595.8 577.6 L1596.9 579.2 L1598 580.9 L1599.2 582.5 L1600.3 584.2 L1601.5 585.8 L1602.7 587.4 L1603.9 589 L1605.1 590.6 L1606.4 592.1 L1607.6 593.7 L1608.9 595.2 L1610.2 596.7 L1611.6 598.1 L1612.9 599.6 L1614.3 601 L1615.7 602.5 L1617.1 603.9 L1618.6 605.3 L1620 606.6 L1621.5 608 L1623 609.4 L1624.5 610.7 L1626 612 L1627.5 613.3 L1629 614.6 L1630.5 615.9 L1632 617.2 L1633.6 618.5 L1635.1 619.8 L1636.7 621 L1638.3 622.2 L1639.9 623.5 L1641.5 624.7 L1643.1 625.8 L1644.7 627 L1646.4 628.1 L1648 629.2 L1649.7 630.3 L1651.4 631.4 L1653.1 632.4 L1654.8 633.5 L1656.5 634.5 L1658.3 635.4 L1660 636.4 L1661.8 637.3 L1663.6 638.1 L1665.4 639 L1667.2 639.8 L1669.1 640.6 L1670.9 641.4 L1672.7 642.1 L1674.6 642.9 L1676.5 643.6 L1678.4 644.2 L1680.2 644.9 L1682.1 645.6 L1684 646.2 L1685.9 646.8 L1687.8 647.4 L1689.8 648 L1691.7 648.6 L1693.6 649.1 L1695.5 649.7 L1697.5 650.2 L1699.4 650.7 L1701.3 651.2 L1703.3 651.6 L1705.2 652.1 L1707.2 652.6 L1709.1 653 L1711.1 653.4 L1713 653.8 L1715 654.2 L1716.9 654.6 L1718.9 655 L1720.9 655.4 L1722.8 655.7 L1724.8 656.1 L1726.8 656.4 L1728.8 656.7 L1730.7 657 L1732.7 657.3 L1734.7 657.6 L1736.7 657.9 L1738.7 658.2 L1740.6 658.4 L1742.6 658.7 L1744.6 658.9 L1746.6 659.2 L1748.6 659.4 L1750.6 659.7 L1752.6 659.9 L1754.5 660.1 L1756.5 660.3 L1758.5 660.5 L1760.5 660.7 L1762.5 660.8 L1764.5 661 L1766.5 661.2 L1768.5 661.3 L1770.5 661.5 L1772.5 661.6 L1774.5 661.7 L1776.5 661.8 L1778.5 662 L1780.5 662.1 L1782.5 662.2 L1784.5 662.3 L1786.4 662.4 L1788.4 662.5 L1790.4 662.6 L1792.4 662.7 L1794.4 662.7 L1796.4 662.8 L1798.4 662.9 L1800.4 663 L1802.4 663 L1804.4 663.1 L1806.4 663.2 L1808.4 663.2 L1810.4 663.3 L1812.4 663.3 L1814.4 663.4 L1816.4 663.4 L1818.4 663.4 L1820.4 663.5 L1822.4 663.5 L1824.4 663.5 L1826.4 663.6 L1828.4 663.6 L1830.4 663.6 L1832.4 663.6 L1834.4 663.6 L1836.4 663.7 L1838.4 663.7 L1840.4 663.7 L1842.4 663.7 L1844.4 663.7 L1846.4 663.7 L1848.4 663.8 L1850.4 663.8 L1852.4 663.8 L1854.4 663.8 L1856.4 663.8 L1858.4 663.8 L1860.4 663.8 L1862.4 663.9 L1864.4 663.9 L1866.4 663.9 L1868.4 663.9 L1870.4 663.9 L1872.4 663.9 L1874.4 663.9 L1876.4 663.9 L1878.4 663.9 L1880.4 663.9 L1882.4 664 L1884.4 664 L1886.4 664 L1888.3 664 L1890.2 664 L1892.1 664 L1893.8 664 L1895.5 664 L1897.1 664 L1898.5 664 L1899.8 664 L1900.9 664 L1904.5 664" fill="none" stroke="#0cb14b" stroke-width="4.8" stroke-linejoin="round" stroke-linecap="round"/>
<path d="M1194 43 L1198.7 43 L1199.9 43 L1201.4 43 L1202.9 43 L1204.6 43 L1206.4 43 L1208.2 43 L1210.1 43 L1212.1 43 L1214.1 43 L1216 43 L1218 43 L1220 43 L1222 43 L1224 43 L1226 43 L1228 43 L1230 43 L1232 43 L1234 43 L1236 43 L1238 43 L1240 43 L1242 43 L1244 43 L1246 43 L1248 43 L1250 43 L1252 43 L1254 43 L1256 43 L1258 43 L1260 43 L1262 43 L1264 43 L1266 43 L1268 43 L1270 43 L1272 43 L1274 43 L1276 43 L1278 43 L1280 43 L1282 43 L1284 43 L1286 43 L1288 43 L1290 43 L1292 43 L1294 43 L1296 43 L1298 43 L1300 43 L1302 43 L1304 43 L1306 43 L1308 43 L1310 43 L1312 43 L1314 43 L1316 43 L1318 43 L1320 43 L1322 43 L1324 43 L1326 43 L1328 43 L1330 43 L1332 43 L1334 43 L1336 43 L1338 43 L1340 43 L1342 43 L1344 43 L1346 43 L1348 43 L1350 43 L1352 43 L1354 43 L1356 43 L1358 43 L1360 43 L1362 43 L1364 43 L1366 43 L1368 43 L1370 43 L1372 43 L1374 43 L1376 43 L1378 43 L1380 43 L1382 43 L1384 43 L1386 43 L1388 43 L1390 43 L1392 43 L1394 43 L1396 43 L1398 43 L1400 43.1 L1402 43.1 L1404 43.1 L1406 43.2 L1408 43.2 L1410 43.3 L1412 43.4 L1414 43.5 L1416 43.6 L1418 43.7 L1420 43.9 L1422 44.1 L1424 44.3 L1425.9 44.6 L1427.9 44.9 L1429.8 45.2 L1431.8 45.6 L1433.7 46 L1435.6 46.5 L1437.6 47.1 L1439.5 47.6 L1441.4 48.2 L1443.3 48.8 L1445.2 49.5 L1447.1 50.1 L1449 50.8 L1450.8 51.5 L1452.7 52.2 L1454.6 52.9 L1456.4 53.6 L1458.3 54.4 L1460.1 55.1 L1462 55.9 L1463.8 56.7 L1465.7 57.5 L1467.5 58.3 L1469.3 59.1 L1471.1 59.9 L1472.9 60.8 L1474.7 61.7 L1476.5 62.6 L1478.3 63.5 L1480.1 64.4 L1481.8 65.4 L1483.5 66.4 L1485.3 67.4 L1486.9 68.5 L1488.6 69.5 L1490.3 70.7 L1491.9 71.8 L1493.5 73 L1495.1 74.2 L1496.6 75.5 L1498.2 76.7 L1499.7 78 L1501.2 79.3 L1502.7 80.7 L1504.1 82.1 L1505.6 83.4 L1507 84.8 L1508.4 86.2 L1509.8 87.7 L1511.2 89.1 L1512.5 90.6 L1513.9 92.1 L1515.2 93.5 L1516.6 95 L1517.9 96.6 L1519.2 98.1 L1520.4 99.6 L1521.7 101.2 L1523 102.7 L1524.2 104.3 L1525.5 105.8 L1526.7 107.4 L1527.9 109 L1529.1 110.6 L1530.3 112.2 L1531.5 113.8 L1532.7 115.4 L1533.8 117.1 L1534.9 118.7 L1536 120.4 L1537.1 122 L1538.2 123.7 L1539.2 125.4 L1540.3 127.1 L1541.3 128.9 L1542.3 130.6 L1543.3 132.3 L1544.2 134.1 L1545.2 135.8 L1546.2 137.6 L1547.1 139.3 L1548 141.1 L1549 142.9 L1549.9 144.7 L1550.8 146.4 L1551.8 148.2 L1552.7 150 L1553.6 151.8 L1554.5 153.5 L1555.4 155.3 L1556.4 157.1 L1557.3 158.9 L1558.2 160.7 L1559.1 162.4 L1560.1 164.2 L1561 166 L1561.9 167.8 L1562.8 169.5 L1563.7 171.3 L1564.6 173.1 L1565.5 174.9 L1566.4 176.7 L1567.3 178.5 L1568.2 180.3 L1569.1 182.1 L1569.9 183.9 L1570.8 185.7 L1571.7 187.5 L1572.5 189.3 L1573.4 191.1 L1574.2 192.9 L1575 194.7 L1575.9 196.5 L1576.7 198.4 L1577.5 200.2 L1578.3 202 L1579.2 203.8 L1580 205.7 L1580.8 207.5 L1581.6 209.3 L1582.4 211.2 L1583.1 213 L1583.9 214.8 L1584.7 216.7 L1585.5 218.5 L1586.3 220.4 L1587 222.2 L1587.8 224.1 L1588.6 225.9 L1589.3 227.8 L1590.1 229.6 L1590.8 231.5 L1591.6 233.3 L1592.3 235.2 L1593.1 237 L1593.8 238.9 L1594.6 240.7 L1595.3 242.6 L1596 244.5 L1596.8 246.3 L1597.5 248.2 L1598.2 250.1 L1599 251.9 L1599.7 253.8 L1600.4 255.6 L1601.1 257.5 L1601.9 259.4 L1602.6 261.2 L1603.3 263.1 L1604 265 L1604.8 266.8 L1605.5 268.7 L1606.2 270.6 L1606.9 272.4 L1607.6 274.3 L1608.4 276.2 L1609.1 278 L1609.8 279.9 L1610.5 281.8 L1611.2 283.6 L1611.9 285.5 L1612.6 287.4 L1613.3 289.3 L1613.9 291.2 L1614.6 293 L1615.3 294.9 L1616 296.8 L1616.7 298.7 L1617.3 300.6 L1618 302.4 L1618.7 304.3 L1619.4 306.2 L1620 308.1 L1620.7 310 L1621.4 311.8 L1622.1 313.7 L1622.8 315.6 L1623.5 317.5 L1624.2 319.4 L1624.9 321.2 L1625.6 323.1 L1626.2 325 L1627 326.9 L1627.7 328.7 L1628.4 330.6 L1629.1 332.5 L1629.8 334.3 L1630.5 336.2 L1631.2 338.1 L1631.9 339.9 L1632.6 341.8 L1633.4 343.7 L1634.1 345.5 L1634.8 347.4 L1635.5 349.3 L1636.3 351.1 L1637 353 L1637.7 354.8 L1638.5 356.7 L1639.2 358.6 L1640 360.4 L1640.7 362.3 L1641.5 364.1 L1642.2 366 L1643 367.8 L1643.7 369.7 L1644.5 371.5 L1645.3 373.4 L1646 375.2 L1646.8 377.1 L1647.6 378.9 L1648.4 380.8 L1649.1 382.6 L1649.9 384.4 L1650.7 386.3 L1651.5 388.1 L1652.3 389.9 L1653.1 391.8 L1654 393.6 L1654.8 395.4 L1655.6 397.2 L1656.5 399 L1657.3 400.8 L1658.2 402.6 L1659.1 404.4 L1660 406.2 L1660.8 408 L1661.7 409.8 L1662.6 411.6 L1663.5 413.4 L1664.4 415.2 L1665.3 417 L1666.2 418.7 L1667.1 420.5 L1668 422.3 L1668.9 424.1 L1669.8 425.9 L1670.6 427.7 L1671.5 429.5 L1672.4 431.3 L1673.2 433.1 L1674.1 434.9 L1674.9 436.7 L1675.8 438.6 L1676.7 440.4 L1677.5 442.2 L1678.4 444 L1679.2 445.8 L1680.1 447.6 L1680.9 449.4 L1681.8 451.2 L1682.7 453 L1683.5 454.8 L1684.4 456.6 L1685.3 458.4 L1686.1 460.2 L1687 462 L1687.9 463.8 L1688.7 465.6 L1689.6 467.4 L1690.5 469.2 L1691.3 471 L1692.2 472.8 L1693.1 474.6 L1694 476.4 L1694.9 478.2 L1695.7 480 L1696.6 481.8 L1697.5 483.6 L1698.4 485.4 L1699.3 487.2 L1700.2 489 L1701.2 490.7 L1702.1 492.5 L1703 494.3 L1704 496 L1704.9 497.8 L1705.9 499.5 L1706.8 501.3 L1707.8 503 L1708.8 504.8 L1709.8 506.5 L1710.8 508.2 L1711.8 510 L1712.8 511.7 L1713.8 513.4 L1714.9 515.1 L1715.9 516.8 L1717 518.5 L1718 520.2 L1719.1 521.9 L1720.1 523.6 L1721.2 525.3 L1722.3 527 L1723.4 528.7 L1724.5 530.4 L1725.6 532 L1726.7 533.7 L1727.8 535.4 L1728.9 537 L1730 538.7 L1731.1 540.3 L1732.3 542 L1733.4 543.6 L1734.6 545.3 L1735.7 546.9 L1736.9 548.5 L1738.1 550.1 L1739.2 551.7 L1740.4 553.4 L1741.6 555 L1742.8 556.6 L1744 558.2 L1745.2 559.8 L1746.5 561.3 L1747.7 562.9 L1748.9 564.5 L1750.1 566.1 L1751.4 567.7 L1752.6 569.2 L1753.9 570.8 L1755.1 572.4 L1756.4 573.9 L1757.6 575.5 L1758.9 577 L1760.2 578.5 L1761.5 580 L1762.8 581.5 L1764.2 583 L1765.5 584.5 L1766.9 586 L1768.2 587.4 L1769.6 588.9 L1771 590.3 L1772.5 591.7 L1773.9 593.1 L1775.4 594.4 L1776.8 595.8 L1778.3 597.1 L1779.8 598.4 L1781.4 599.7 L1782.9 601 L1784.5 602.2 L1786 603.4 L1787.6 604.7 L1789.2 605.8 L1790.8 607 L1792.5 608.2 L1794.1 609.3 L1795.8 610.5 L1797.4 611.6 L1799.1 612.7 L1800.7 613.8 L1802.4 614.9 L1804.1 616 L1805.8 617.1 L1807.5 618.2 L1809.1 619.2 L1810.8 620.3 L1812.5 621.4 L1814.2 622.4 L1816 623.4 L1817.7 624.4 L1819.4 625.4 L1821.2 626.4 L1822.9 627.4 L1824.6 628.4 L1826.4 629.3 L1828.2 630.2 L1830 631.1 L1831.7 632.1 L1833.5 633 L1835.3 633.8 L1837.1 634.7 L1838.9 635.6 L1840.7 636.4 L1842.5 637.3 L1844.3 638.1 L1846.2 639 L1848 639.8 L1849.8 640.6 L1851.6 641.4 L1853.5 642.2 L1855.3 643 L1857.2 643.8 L1859 644.6 L1860.8 645.3 L1862.7 646.1 L1864.5 646.8 L1866.4 647.6 L1868.3 648.3 L1870.1 649.1 L1872 649.8 L1873.8 650.6 L1875.7 651.3 L1877.5 652 L1879.4 652.8 L1881.3 653.5 L1883.1 654.2 L1885 655 L1886.8 655.7 L1888.6 656.4 L1890.4 657 L1892.2 657.7 L1893.9 658.3 L1895.5 658.9 L1897 659.4 L1898.4 659.9 L1899.6 660.3 L1900.7 660.7 L1904.5 662" fill="none" stroke="#0cb14b" stroke-width="4.2" stroke-linejoin="round" stroke-linecap="round"/>
<path d="M1295.6 48.4h0M1298.4 49.1h0M1300.7 50.1h0M1303.7 50.5h0M1306 51h0M1308.4 52.4h0M1310.9 54.2h0M1313.2 54.9h0M1316.3 56.2h0M1318.6 57.5h0M1321.1 60h0M1323.6 61.8h0M1326 64.9h0M1328.6 66.5h0M1330.7 72h0M1333.7 74.9h0M1336 80.6h0M1338.4 83.3h0M1340.9 88.7h0M1343.6 94h0M1345.7 101h0M1348.8 110.1h0M1350.8 116.2h0M1353.8 127.3h0M1355.7 135.5h0M1358.3 146.6h0M1360.3 153.7h0M1362.3 164h0M1365 176.9h0M1367.5 190.2h0M1369.9 203.7h0M1372.7 217.2h0M1375.2 232.3h0M1377.7 248.6h0M1380.3 266.2h0M1382.5 280.5h0M1385 295.1h0M1387.2 307.5h0M1389.7 320.7h0M1392.2 336.8h0M1394.9 351.7h0M1397.3 365.5h0M1399.9 382.3h0M1402.3 399.4h0M1405.2 424.3h0M1407.8 440.5h0M1407.9 429.9h0M1410.4 432.9h0M1413.2 439h0M1416.1 444.9h0M1418.6 448.7h0M1420.7 451.6h0M1423.8 452.6h0M1426.5 455.2h0M1428.5 454.9h0M1431.7 458.3h0M1434.3 461.4h0M1436.3 463.3h0M1439.2 466h0M1442 469.3h0M1444.8 472.6h0M1447.2 474.8h0M1449.8 478.2h0M1452.6 482.2h0M1454.8 488h0M1457.7 494.7h0M1460.3 499.8h0M1462.5 504.7h0M1465.2 515.5h0M1467.7 522.1h0M1470.1 528.2h0M1473.2 539.9h0M1475.7 546.6h0M1478 549.2h0M1480.6 556.9h0M1483.6 567.1h0M1485.9 573.2h0M1488.4 576.7h0M1491.4 583.7h0M1493.6 588.6h0M1496 592.7h0M1499.1 596h0M1501.5 604.2h0M1504.3 608.1h0M1504.3 610.2h0M1508 610.5h0M1510.4 611.7h0M1512.6 617.6h0M1515.8 620.6h0M1516.1 624.6h0M1519.9 623.6h0M1519.8 628.5h0M1522.6 629h0M1523.8 631.6h0M1528.1 631.9h0M1527.6 637.2h0M1530 638.5h0M1532.8 639.8h0M1536 639.5h0M1537.3 641.7h0M1540.5 641.6h0M1541.4 644.2h0M1545.4 640.8h0M1546.5 644.3h0M1548.3 647.3h0M1550.5 647.3h0M1552.8 648.3h0M1554.9 648.9h0M1557.8 648.9h0M1560.6 648h0M1561.8 650.7h0M1564.9 650.2h0M1566.8 651.1h0M1568.5 651.9h0M1570.7 652.7h0M1573.7 651.9h0M1575.4 655h0M1577.3 654.6h0M1579.7 656.6h0M1581.3 658.4h0M1583.9 656.7h0M1586.4 656.1h0M1588.9 654.2h0M1591 656.7h0M1593.2 657.4h0M1595 657.9h0M1597.7 658h0M1599.5 657.5h0M1601.9 660.2h0M1603.7 659.3h0M1606 661.1h0M1608.8 658.7h0M1610.3 660.5h0M1612.6 662.2h0M1614.9 662.4h0M1617.4 658.9h0M1619.6 660.7h0M1621.8 660.5h0M1623.6 663.1h0M1626 662h0M1628.2 660.4h0M1630.1 661.5h0M1632.3 660.9h0M1634.7 661.9h0M1636.9 661.2h0M1639 662.3h0M1380.3 45.9h0M1382.4 47.3h0M1384.6 47h0M1387 48.6h0M1389.5 46.9h0M1392.3 50h0M1394.6 51.2h0M1396.7 52.1h0M1398.9 52.8h0M1401.7 52.8h0M1404.1 55.1h0M1406.7 57.2h0M1409 59.2h0M1411.5 60.1h0M1413.9 62.5h0M1416.1 64.2h0M1418.2 66.1h0M1420.6 68.5h0M1422.9 71.1h0M1425.9 73.7h0M1427.6 75.8h0M1430.1 78.3h0M1432.9 82.3h0M1435.1 85.3h0M1437.7 90.3h0M1439.9 95.7h0M1442.7 101.6h0M1445 105h0M1447.5 111.7h0M1449.6 116.9h0M1452.1 123.5h0M1454.1 129.9h0M1456.5 138h0M1459.5 147h0M1461.4 150.7h0M1463.7 156.4h0M1466.5 163.4h0M1468.5 169.4h0M1471.4 178.6h0M1473.3 186h0M1476.1 196.7h0M1478.7 206h0M1480.8 213.5h0M1483.2 223.9h0M1485.8 234.4h0M1488.4 243.4h0M1490.3 253.4h0M1493 262.9h0M1495.3 271.7h0M1497.6 283.6h0M1500 290.6h0M1502.2 300.4h0M1504.7 309.8h0M1507.1 320.7h0M1509.9 330.2h0M1512.4 338.2h0M1514.1 343.9h0M1516.5 353.5h0M1519 364.1h0M1521.5 371.2h0M1524.2 383.1h0M1526.3 388.9h0M1528.4 395.7h0M1531.5 404.8h0M1533.9 413.2h0M1535.9 417.9h0M1538.1 420.4h0M1541.8 420.4h0M1543.5 424h0M1544.8 426.4h0M1548 427.4h0M1549.9 430.6h0M1550 433.9h0M1556.9 436.4h0M1554.5 443.4h0M1561.1 444.8h0M1562.5 447.9h0M1564.8 449.8h0M1566.4 452.4h0M1569.4 452.8h0M1571.7 455.5h0M1574.5 458h0M1575.8 460.4h0M1578.7 463.3h0M1581.3 465.1h0M1583 468.4h0M1584.5 470.9h0M1589.4 472h0M1591.1 473.8h0M1593.8 476.3h0M1596.4 478.6h0M1598.6 480.9h0M1600.5 484.7h0M1602.2 489.2h0M1606.3 492.5h0M1607.6 496.8h0M1610.2 498.3h0M1609.8 503.7h0M1614.7 505.5h0M1616.2 509.5h0M1620.4 512.2h0M1623.1 515.1h0M1624.1 517.6h0M1627.4 518.5h0M1629.3 521.1h0M1630.9 525h0M1634.6 525.6h0M1637.4 529.1h0M1638.5 532.9h0M1641.9 537.2h0M1642.9 541.1h0M1646.1 544.8h0M1649.2 547h0M1652.3 548.2h0M1652.9 552.6h0M1656.5 553.6h0M1657.8 556h0M1662.2 556.9h0M1663.9 561.9h0M1665.1 566.6h0M1667.1 570.6h0M1669.6 572.8h0M1671.5 574.4h0M1675.1 574.5h0M1676.6 576.7h0M1679.5 577.5h0M1682.6 578.7h0M1685.3 580.9h0M1687.6 583.2h0M1688 587.7h0M1691.5 589.9h0M1695.1 592.5h0M1696.7 595.3h0M1697 599.1h0M1702.4 598.1h0M1704.8 599.9h0M1704.8 604.1h0M1709.7 602.8h0M1710 607.1h0M1713.9 606.4h0M1715.4 608.6h0M1717.5 611h0M1719.9 612.2h0M1722.1 612.5h0M1725.6 613.1h0M1728 613.9h0M1730.2 615.1h0M1731.5 618.6h0M1734.8 618.7h0M1736.6 621h0M1741.2 618.4h0M1742.3 622.1h0M1744.1 624.1h0M1747.1 624.9h0M1748.2 629.2h0M1752.2 626.6h0M1754.1 629.8h0M1756.1 631.2h0M1759.3 630.1h0M1760.6 632.9h0M1763.6 633.3h0M1765.1 637.1h0M1767.8 635.9h0M1770.7 634.7h0M1773 636.7h0M1775.1 636.7h0M1778.5 637.1h0M1779.9 639.5h0M1782.3 640.4h0M1784.6 642.9h0M1788.1 639.9h0M1790.6 640.6h0M1792.8 641.9h0M1794.4 644.1h0M1797 645.2h0M1799.9 644.2h0M1802.1 645.2h0M1804.6 645.4h0M1807.2 643.8h0M1809.5 645.4h0M1811.5 648.2h0M1813.7 648.6h0M1816 649.6h0M1818.6 649.5h0M1821.6 645.9h0M1823.3 650.1h0M1825.6 650.7h0M1829.1 649.3h0M1830 653.8h0M1833 651.7h0M1835.1 653.7h0M1837.8 654h0M1840.1 654.2h0M1842.6 655.8h0M1845.2 654.2h0M1847.1 656h0M1849.9 655.9h0M1852.9 654.2h0M1854.7 655.3h0M1857.7 655h0M1860 654.6h0M1420.2 42.1h0M1421 42.9h0M1422 42.3h0M1423.1 43.3h0M1424 43h0M1425.1 43.1h0M1426.1 42.9h0M1427 43.6h0M1428 43.2h0M1428.9 43.9h0M1429.9 44.1h0M1431.1 43.4h0M1432.1 44.4h0M1433.3 43.7h0M1434 44.9h0M1435.2 44.1h0M1436.2 44.6h0M1437 45.6h0M1438 45.5h0M1438.9 45.8h0M1440.1 44.9h0M1440.9 46.3h0M1442.2 46h0M1442.9 47.1h0M1443.9 46.7h0M1444.9 46.9h0M1446.3 46.6h0M1447.2 47.1h0M1448 47.6h0M1448.9 48.4h0M1449.9 48.6h0M1451 48.3h0M1452.3 48.4h0M1453.1 48.6h0M1453.7 49.9h0M1455.1 49.8h0M1456.1 49.6h0M1456.7 50.8h0M1457.9 50.8h0M1459 51.3h0M1459.8 51.7h0M1460.9 51.9h0M1462.2 52.1h0M1463.1 52h0M1464.2 52.6h0M1465 53.1h0M1465.9 54h0M1467.1 54.1h0M1467.9 55h0M1469 55.5h0M1469.7 56.1h0M1470.7 56.5h0M1472.3 55.6h0M1472.9 57.6h0M1474.1 57.6h0M1474.9 58h0M1476.1 58.2h0M1476.9 59h0M1477.9 59.4h0M1479.1 59.7h0M1480.3 59.9h0M1480.7 61.3h0M1481.9 61.6h0M1483.3 61.7h0M1484.1 62.4h0M1484.8 63.3h0M1486.2 63.6h0M1486.9 64.3h0M1487.9 65.2h0M1488.8 65.7h0M1489.9 66h0M1491.3 66.6h0M1492 67.3h0M1492.9 68.4h0M1494 68.8h0M1494.7 70.1h0M1495.5 70.8h0M1496.7 71.6h0M1497.9 72.2h0M1499.2 72.4h0M1499.5 74h0M1500.8 74.7h0M1502.1 75.2h0M1503.1 75.9h0M1504.2 77.1h0M1504.9 78.1h0M1506.4 78.7h0M1506.8 80.4h0M1508 80.8h0M1509 82.2h0M1510.5 82.6h0M1510.3 84.8h0M1511.7 85.2h0M1513 86h0M1514.3 86.8h0M1514.7 88.6h0M1516 89h0M1517.1 90.2h0M1518.4 91.4h0M1519.5 92.5h0M1520.1 93.8h0M1521 94.9h0M1522.2 96.2h0M1523.2 96.9h0M1523.5 98.8h0M1524.4 100h0M1526.4 101h0M1526.7 102.6h0M1527.9 103.5h0M1529.1 104.9h0M1529.3 106.4h0M1530.4 107.8h0M1532 108.5h0M1532.8 110.2h0M1534.2 111.2h0M1535.5 112.4h0M1535.8 114.3h0M1537 115.8h0M1537.8 117.2h0M1538.4 119.1h0M1540.2 120.2h0M1540.9 121.9h0M1542 123.4h0M1543.5 124.5h0M1544.1 126.6h0M1545.6 128.2h0M1546.1 130.4h0M1547.4 131.9h0M1548.2 133.4h0M1548.5 135.8h0M1550.1 137.4h0M1551.1 139.4h0M1551.9 141.5h0M1553.6 142.9h0M1554.4 145.3h0M1555.1 146.9h0M1555.9 149.3h0M1556.9 151.1h0M1558.2 153h0M1558.4 155.1h0M1560.3 157h0M1561.1 158.4h0M1561.8 160.6h0M1563.4 162.8h0M1563.7 164.8h0M1564.8 166.3h0M1566.4 168.6h0M1566.3 170.8h0M1568.1 172.2h0M1569.1 174.6h0M1570 176.6h0M1570.9 178.3h0M1572 180.6h0M1573.4 182.3h0M1573.9 184.3h0M1575.6 186.2h0M1576 188.6h0M1577.1 190.9h0M1577.8 193h0M1579.2 195h0M1579.9 197.3h0M1581.1 199.5h0M1582.1 202.2h0M1583.2 203.9h0M1583.7 206.7h0M1584.8 209.2h0M1586.6 211h0M1587.1 213.5h0M1588.1 215.6h0M1589.6 217.8h0M1590.5 220.7h0M1591 222.8h0M1592.4 225.2h0M1593 227.8h0M1593.9 230.6h0M1595.4 233h0M1595.8 235.4h0M1596.5 237.8h0M1598.1 240h0M1598.7 243.2h0M1599.6 245.5h0M1600.6 248.2h0M1601.9 250.3h0M1602.8 252.9h0M1604.4 255.9h0M1604.9 258.7h0M1605.7 260.7h0M1606.9 263.4h0M1608.2 266.3h0M1609.2 268.3h0M1610.6 270.5h0M1611.1 273.3h0M1612.7 276.3h0M1613.2 279.2h0M1614.3 281.4h0M1614.4 285h0M1616.2 286.9h0M1617.5 290.1h0M1617.3 292.4h0M1619.6 295.3h0M1619.7 298.3h0M1620.7 301.4h0M1622 303.4h0M1623.4 306.2h0M1624.1 308.9h0M1625.1 312.4h0M1625.7 314.7h0M1626.7 317.3h0M1628 320.6h0M1629.2 323.1h0M1629.7 326.1h0M1631.3 328.3h0M1632.2 331h0M1633.1 334.3h0M1633.7 336.7h0M1634.9 339.5h0M1635.8 342.1h0M1637.1 344.7h0M1637.8 348.1h0M1639.8 350.3h0M1640.3 353.1h0M1641.6 355.8h0M1642.4 358.4h0M1642.8 360.9h0M1643.7 363.7h0M1645.3 366.4h0M1646.1 369.5h0M1646.5 372.7h0M1647.9 374.7h0M1648.7 378.1h0M1649.6 380.4h0M1650.7 383.5h0M1652.2 385.9h0M1652.9 388.3h0M1653.2 391h0M1655.3 393.1h0M1656.4 395.4h0M1656.8 398.2h0M1658.1 399.5h0M1659 402h0M1659.9 404.3h0M1661.2 406.1h0M1662.1 407.9h0M1663.5 409.7h0M1664.2 411.6h0M1665.5 413h0M1665.9 414.7h0M1666.9 416.1h0M1667.6 417.7h0M1669 418.7h0M1669.7 420.4h0M1670.6 421.6h0M1671.8 423h0M1671.3 423.9h0M1673.6 425.9h0M1675.6 427.9h0M1678.7 430.1h0M1680.4 433.7h0M1682.3 437h0M1681.8 442.3h0M1687.6 444.1h0M1688.6 449.4h0M1689.8 453.2h0M1693.2 455.8h0M1693.5 460.4h0M1696.9 462.1h0M1697.4 465h0M1700 467.7h0M1704.4 468.3h0M1703.6 473.8h0M1707.4 474.8h0M1707.9 479.6h0M1708.5 483.7h0M1710.9 486.3h0M1714.2 489.8h0M1716.2 493.7h0M1718 497h0M1720.2 499.6h0M1723.3 502.8h0M1724.3 506.4h0M1725.9 508.7h0M1725.7 513.3h0M1729.5 514.8h0M1729.9 519.1h0M1733.9 519.1h0M1735.9 522.3h0M1738.2 524.5h0M1740.9 525.9h0M1742.9 528.2h0M1744.2 531.5h0M1744.9 535.2h0M1749.2 536.3h0M1751.6 538.6h0M1752.3 542.3h0M1754.9 544h0M1756.9 546h0M1756.6 550h0M1760.2 550.4h0M1761.7 553.1h0M1764.3 554.6h0M1765.1 557.1h0M1768 558.7h0M1770 561h0M1771.4 564.8h0M1774.3 567h0M1774.6 570.2h0M1778.6 570.7h0M1778.5 575h0M1783.3 574.8h0M1784.5 577h0M1786.1 579.4h0M1789 579.7h0M1790.4 581.9h0M1791.5 585.3h0M1794 585.8h0M1796.7 587.4h0M1797.5 590.9h0M1800.2 592.3h0M1801.7 594.6h0M1802.8 597.3h0M1805.8 597.4h0M1807.8 599.8h0M1807.7 604.2h0M1813.5 600.7h0M1813.8 604.8h0M1816.5 605.2h0M1817.7 608.1h0M1820.4 608h0M1822.7 610.1h0M1825 610.3h0M1825.3 613.9h0M1828.3 614.9h0M1830.5 616h0M1832.7 616.5h0M1833.2 620.8h0M1837.4 619.3h0M1837 623.8h0M1839.5 624.7h0M1842.3 625.5h0M1844.2 628.1h0M1847.4 628.1h0M1847 632.6h0M1851.2 631.2h0M1852.4 633.2h0M1853.1 636.1h0M1856.5 636.3h0M1857.8 638.4h0M1859.7 639.8h0M1862.7 640.8h0M1864.2 642.4h0M1864.9 646.8h0M1867.5 647.3h0M1869.7 648.3h0M1872.1 648.9h0M1874.4 648.8h0M1876.6 649.3h0M1877.9 652.8h0M1880.5 652.2h0M1882 653.3h0M1884.7 653.3h0M1886.9 653.3h0M1888.1 656.3h0M1890.2 655.6h0M1891.4 660.2h0M1893.5 660.5h0M1896.2 658.6h0M1897.7 661.1h0M1241.7 37.8h0M1239.1 40h0M1257.5 38.8h0M1214.8 39.2h0M1196.4 41.8h0M1202.5 38.8h0M1211.2 40h0M1276.3 37h0M1262.8 39.9h0M1266 40.4h0M1236.6 39h0M1203.9 39h0M1238.7 43.4h0M1276.8 38.1h0M1242.9 38.4h0M1254.7 38.8h0M1229.9 42.2h0M1208.4 43.8h0M1254.2 40.8h0M1240.6 39h0M1227.2 39.5h0M1218.8 42h0M1260.8 38.7h0M1224.5 42.7h0M1249.3 42.6h0M1218.9 40.3h0M1266.3 41.3h0M1230 41.5h0M1239.9 42.8h0M1283 38.4h0M1263 42.2h0M1264.7 39.6h0M1226.6 38.9h0M1274.7 40.4h0M1231 39.8h0M1288.9 38.5h0M1280 37.5h0M1257.3 38.6h0M1273.8 42.7h0M1246.2 43.5h0M1264.4 41.3h0M1206 42.2h0M1288.9 39.3h0M1270.8 40.1h0M1207.7 40.7h0M1217.3 38.4h0M1249.2 38.5h0M1267.2 40.4h0M1208.3 39.7h0M1286.2 38.4h0M1227.2 40.9h0M1289.5 39.8h0M1266.2 41.9h0M1240.6 40.2h0M1228.8 39.7h0M1203.3 40.4h0M1202.4 39.9h0M1254.4 39.1h0M1268.3 39.5h0M1281.1 41.5h0M1229 41.3h0M1284 42.4h0M1222.5 37.3h0M1284.2 39.5h0M1282.2 39.5h0M1208.9 40.5h0M1276.6 39.4h0M1261.6 39.3h0M1261.4 41.5h0M1274.7 40.5h0M1245.5 38.2h0M1242.6 42.5h0M1229.2 41.9h0M1277.1 39.2h0M1280.5 41.6h0M1209.4 39h0M1268.1 42.1h0M1220.4 39.8h0M1211.7 38.8h0M1212.9 39.6h0M1249 38.9h0M1220.9 40.5h0M1217.3 40.5h0M1203.5 40.3h0M1225.2 39.3h0M1268.3 34h0M1196.1 40.4h0M1240.3 37h0M1251.9 40.6h0M1198.8 42.1h0M1222.2 40.7h0M1281 39.5h0M1289.5 39.9h0M1275.6 40h0M1210.3 39.3h0M1267.4 39.2h0M1237.3 38.6h0M1210.4 42.2h0M1240.2 40.2h0M1282.6 41.8h0M1278.2 39.8h0M1231.6 40.3h0M1200.1 39.9h0M1280.5 41h0M1288.7 41.6h0M1243.1 40.6h0M1215.6 39.1h0M1246.2 38.9h0M1260.8 43h0M1240.3 39.7h0M1227.8 39.7h0M1217.8 42.7h0M1222.5 42h0M1198.8 41.1h0M1218.5 39.5h0M1285.5 44.2h0M1194.8 40.9h0M1263.8 41.1h0M1269.7 39.9h0M1232.9 37.8h0M1251.1 37.9h0M1215.2 40.9h0M1258.1 40.9h0M1262 39.8h0M1264.5 38.2h0M1241.2 37.7h0M1287.2 39.6h0M1277.2 37.7h0M1249 41.7h0M1259.5 42.2h0M1220.4 45h0M1284.6 41.7h0M1255.9 39.2h0M1279.9 38.7h0M1221.7 34.3h0M1288.3 39.2h0M1204.1 39.9h0M1244.9 41.8h0M1204.6 41.2h0M1212.2 41.2h0M1267.4 40.6h0M1200.3 41.3h0M1230.7 42.7h0M1212.4 38.4h0M1275.6 39.4h0M1201.9 37.8h0M1226.3 43h0M1276.2 42.4h0M1259.9 41.5h0M1261.5 38.2h0M1200.6 48.4h0M1200.6 49.4h0M1200.5 51.1h0M1205.8 46.9h0M1197.1 51.7h0M1211.4 51.4h0M1198.7 50.7h0M1204.3 46.6h0M1208.5 48h0M1197.9 44.6h0M1203.6 50.2h0M1206.8 51.5h0M1206.6 44.5h0M1213.7 50.1h0M1211.5 49.6h0M1197.5 43.3h0M1212.5 51.7h0M1206.5 47.6h0M1209.2 45.6h0M1198.4 43.3h0M1204.9 50.4h0M1209.7 46.2h0M1211.7 47.9h0M1211.9 44.9h0M1199.6 48.8h0M1212.5 46.8h0M1232.1 48.1h0M1229.3 47.2h0M1230.4 46.7h0M1221 45.9h0M1217.3 45.6h0M1233.6 46.2h0M1234.7 45h0M1228.9 45.9h0M1286.4 48.9h0M1263.5 46.2h0M1280.9 48.3h0M1275.7 48.5h0M1292.4 49.1h0M1301 52h0M1291.5 50.1h0M1293.9 50h0M1291.5 49.6h0M1274.3 48.1h0M1280.1 49.4h0M1302.5 52h0M1307.4 51.9h0M1270.7 48.1h0M1262.5 46.2h0M1308.2 53h0M1303.3 50.9h0M1291.2 47h0M1301.2 52.3h0M1290.5 49.6h0M1305.4 49.8h0M1273.7 47.2h0M1283.3 47.5h0M1294.2 52.4h0M1272.4 47.8h0M1296.3 48.2h0M1274.6 48.2h0M1296.1 49.6h0M1300.6 52.9h0M1282.4 47.2h0M1309.5 49h0M1292.3 49.7h0M1298.3 49.9h0M1263 45.6h0M1267.4 44.1h0M1296.2 50.6h0M1307.3 53.4h0M1292.2 47.3h0M1305.8 52.7h0M1264.8 45.7h0M1374.5 39.5h0M1324.5 39.3h0M1359.5 39.3h0M1351.2 39.5h0M1367.3 40.3h0M1422.8 38.3h0M1405.6 39.4h0M1344.3 37.6h0M1406.7 38h0M1413.4 39.6h0M1400 38.8h0M1365.5 36.9h0M1419.4 38.8h0M1356.3 38.2h0M1296.4 37.5h0M1322.2 38.9h0M1381.9 38h0M1338.8 36.7h0M1345.5 37.2h0M1342.3 40.3h0M1309.8 36.7h0M1294.5 38.6h0M1287.6 39.1h0M1384.2 39.1h0M1330.2 37.1h0M1350.8 38h0M1425 38.6h0M1377.1 39.3h0M1405.7 37.7h0M1398.2 37.1h0M1427.8 39.5h0M1290.4 39.6h0M1339.5 38.8h0M1427.2 37.7h0M1352 38.8h0M1426.9 38.5h0M1308.7 39.3h0M1289.3 37h0M1418.8 38.5h0M1343.7 38.2h0M1358.8 37.2h0M1425.1 38.6h0M1314 38.4h0M1430.1 37.9h0M1341.5 38.8h0M1318.3 36.8h0M1316.2 38.3h0M1360.4 38.9h0M1352.4 38.7h0M1417.3 39.6h0M1287.9 37.1h0M1286.8 36.7h0M1303.7 38.7h0M1373.9 38.9h0M1401.1 40.7h0M1354.4 39.1h0M1375.1 37.4h0M1379.6 39.3h0M1283 37.5h0M1318.2 36.8h0M1337.8 39.1h0M1375.9 42.3h0M1377.1 39.7h0M1379.7 40.3h0M1380.4 42.3h0M1376.4 41.1h0M1368.7 42.7h0M1381.9 46.2h0M1335.7 42.7h0M1344.8 42.6h0M1381.9 40.2h0M1343.5 40.5h0M1367.2 39.9h0M1348.2 40.7h0M1360.2 39.9h0M1388.4 40.5h0M1376.2 41.2h0M1361.2 40h0M1349.1 39.4h0M1386.4 39.5h0M1376 42.2h0M1360.8 41.6h0M1390.8 43h0M1378.5 43.1h0M1398.6 41h0M1376.5 42.5h0M1393 39.3h0M1368.5 44.9h0M1379.7 43.3h0M1389 41.2h0M1858.4 657.5h0M1755.9 659.5h0M1641.3 659h0M1631.9 661.6h0M1785.9 657.9h0M1777.1 662.5h0M1669.7 660.7h0M1675.2 663.7h0M1719.9 663.4h0M1874.1 663.3h0M1745.7 662.4h0M1849.8 662.4h0M1781.1 662.2h0M1753.9 662.7h0M1728.9 661.6h0M1794.8 662.7h0M1729.6 663.3h0M1810.5 659h0M1622.8 662.9h0M1671.2 663.5h0M1861.2 661.4h0M1696.4 662.8h0M1850.9 659.3h0M1883.6 662.1h0M1759.6 658.4h0M1595.1 660.7h0M1821.1 663.5h0M1789.7 662.3h0M1660.3 661.8h0M1857.7 661.5h0M1726.5 663.5h0M1579.7 660.5h0M1583.5 659.7h0M1638.8 662.9h0M1770.4 661.3h0M1841.2 660.5h0M1594.2 660.9h0M1567.7 661.4h0M1774.8 662h0M1701.3 662.8h0M1712.4 662.7h0M1843.1 660.5h0M1877.1 661.4h0M1893.7 660h0M1828.8 660.2h0M1561.1 659.7h0M1611.9 662.7h0M1762.6 663.5h0M1889.6 661.6h0M1588.1 662.9h0M1737.7 662h0M1696.8 662.9h0M1700.4 662.8h0M1652.7 662.4h0M1653.4 663h0M1642.2 661.5h0M1595.6 663.7h0M1751.2 663.5h0M1713.9 663h0M1806 660.5h0M1780.8 658.2h0M1888.7 662.8h0M1677.2 662.9h0M1864.5 654.1h0M1692.7 663.4h0M1787.9 662.3h0M1837.7 655.2h0M1696.9 663.1h0M1713.9 662.3h0M1777.8 661.4h0M1598.2 662.9h0M1743.5 661h0M1592.8 662h0M1637.6 660.4h0M1775 662.7h0M1895.4 660.6h0M1904.8 663.7h0M1649.9 662.7h0M1610.5 663.4h0M1738.9 660.5h0M1712.3 663.6h0M1690.9 662.8h0M1825.1 659.9h0M1804.8 662.5h0M1753.8 660.1h0M1774.4 660.4h0M1760.7 659h0M1793.5 660.4h0M1880.1 658h0M1886.6 660.8h0M1897.9 662.9h0M1856.6 660.8h0M1596.1 661.8h0M1715.8 660.9h0M1829.6 663.4h0M1661.5 663.5h0M1769.3 661.1h0M1579.1 663.4h0M1630.3 662.3h0M1698.1 663.2h0M1584.2 661.4h0M1706.4 658.9h0M1639.4 663.1h0M1857.3 663h0M1670 663.1h0M1691.4 662.8h0M1836.7 661h0M1753.1 661.7h0M1577.3 663.6h0M1635.1 663.4h0M1770.8 660.7h0M1628.8 662.3h0M1645.7 663.3h0M1774.9 660.5h0M1730.6 660.4h0M1652.8 663h0M1752.9 660.3h0M1778.6 663.1h0M1573.6 660.5h0M1654.5 663.4h0M1666.2 663h0M1863.2 657.8h0M1577.7 662.4h0M1679.8 660.5h0M1627.1 663h0M1799.8 661.2h0M1839.9 660.9h0M1579.8 663.7h0M1857.8 662.8h0M1800.1 663.3h0M1634.9 662.2h0M1876 661.9h0M1661.1 662.6h0M1832 663.1h0M1585.9 662h0M1717.3 663.1h0M1734.5 661.2h0M1869.3 659.4h0M1848.6 655.2h0M1748.5 663.1h0M1577.8 658.4h0M1708.3 662.9h0M1689.5 661.2h0M1903.4 663.7h0M1794.8 659.3h0M1699.7 663.3h0M1685.9 662.4h0M1824.8 663.3h0M1593 662.9h0M1841.9 651.2h0M1791.5 663.5h0M1710.2 662.4h0M1805.1 662h0M1697.2 662.9h0M1609.4 662.8h0M1703.8 662h0M1577.7 663.4h0M1590.1 660.6h0M1711.5 662.5h0M1844.7 662.5h0M1630.3 663.1h0M1732.8 659.8h0M1897.7 663h0M1845.5 660.8h0M1871.2 663.5h0M1792.9 658.8h0M1763.2 663.5h0M1760.7 663.3h0M1767.4 660.3h0M1720.4 662.2h0M1684.4 661.8h0M1642.3 661.7h0M1582.5 658.1h0M1687.4 662.9h0M1825.6 657.4h0M1750.7 662.5h0M1616.6 661.8h0M1840.9 661.2h0M1574.3 663.4h0M1881.2 660.8h0M1784.9 657.4h0M1751.9 661.1h0M1702.3 661.2h0M1844.6 658.4h0M1562.3 661.3h0M1565.5 661.3h0M1739.5 663.2h0M1662.5 663.1h0M1698.5 663h0M1745.1 660.2h0M1575.1 662h0M1899.2 663.7h0M1793.8 662.1h0M1594.1 662.2h0M1814.8 661.8h0M1743.9 661.8h0M1797 660.4h0M1814.5 659.6h0M1902 663.1h0M1600.8 662.6h0M1903.7 663.4h0M1724.5 656.9h0M1629.3 661.9h0M1688.9 663.1h0M1685.7 663.5h0M1868.9 662.5h0M1740.9 659.9h0M1583 662.5h0M1806.6 661.4h0M1731.7 660h0M1841 661.2h0M1576 661.7h0M1858.4 657.6h0M1868 659.9h0M1562.8 659.1h0M1724.5 663.6h0M1601.9 661.8h0M1742.6 661h0M1590.8 660h0M1866 657.6h0M1623.4 660.3h0M1790.5 662.8h0M1785.5 658.8h0M1670.7 662.9h0M1634 660.2h0M1875.8 661.7h0M1573.7 661.7h0M1647.7 659.1h0M1672.7 659.9h0M1761.5 661.6h0M1687.4 663.2h0M1598.4 662.6h0M1756.8 662.8h0M1809.8 660.7h0M1803.2 662.7h0M1728.9 657.2h0M1665.9 663.3h0M1563.5 663.6h0M1743.8 656.6h0M1776.8 661.3h0M1712.2 662.6h0M1890.9 662.5h0M1629.8 661h0M1840.9 661.3h0M1808 657.1h0M1870.3 657.5h0M1879 661.5h0M1641.7 661.1h0M1878 663.5h0M1699.1 661.6h0M1794.3 662h0M1888.7 662.8h0M1765.4 661.1h0M1761.1 661.8h0M1584.4 663.5h0M1765.8 660.9h0M1643.2 661.9h0M1693.9 661.2h0M1690.4 661.2h0M1895.8 662.3h0M1780 660.3h0M1810.1 662.8h0M1619.6 661.8h0M1665 659.9h0M1862.7 660.8h0M1601.5 662h0M1888.8 661.5h0M1707.5 662.1h0M1694.5 662.3h0M1737.6 659.6h0M1712.9 660.4h0M1722.3 658h0M1706.3 663h0M1802.1 663h0M1655.3 661.5h0M1617.4 663.7h0M1709.9 663.6h0M1590.5 661.4h0M1714.3 661.3h0M1730.5 660.9h0M1830.6 661.7h0M1597.6 660.6h0M1696.9 661.3h0M1829.3 659.8h0M1676.7 661.8h0M1848.5 657.3h0M1807.8 662.1h0M1574.4 661.1h0M1692.9 661.9h0M1824.4 663.4h0M1741.7 662.4h0M1792.1 656h0M1901.6 663.5h0M1793 662.2h0M1748.4 660.6h0M1851.9 661.3h0M1708.4 661.9h0M1563.6 661.5h0M1654 663.7h0M1765.2 661.6h0M1887.1 657.6h0M1769.5 658.9h0M1657.9 662.1h0M1902.7 663.1h0M1698.1 659.3h0M1638.6 659.9h0M1750.8 662.1h0M1678.7 662.6h0M1598.5 662.9h0M1805.9 659.7h0M1798.6 662.4h0M1895.4 662h0M1607.2 657.7h0M1874.1 662.8h0M1835 660.1h0M1647.3 663h0M1725.4 663.1h0M1777.4 659.3h0M1668.7 659.9h0M1597.1 661.3h0M1848.8 660.3h0M1616.8 661.1h0M1729.3 662.7h0M1711 662.4h0M1871.5 661.9h0M1752.8 660.5h0M1706.4 662.7h0M1897 663.4h0M1681.6 662.9h0M1810.6 661.9h0M1640.7 660.9h0M1821.2 663h0M1819.2 653.6h0M1845.7 661.1h0M1727.2 663.6h0M1636.6 661.6h0M1778 662.7h0M1874 662.6h0M1666.9 662.2h0M1567 662.2h0M1623.8 662.7h0M1881.9 661.7h0M1562.1 662.1h0M1578.6 662.5h0M1593.9 662.5h0M1867.7 656.5h0M1692.2 662.3h0M1798.6 661.3h0M1803.5 662.5h0M1709.7 662.8h0M1812.7 659.4h0M1719.1 661.2h0M1746.9 662.1h0M1665.9 663.3h0M1560.7 660.9h0M1764.7 658.7h0M1651.6 662.7h0M1654.9 660.6h0M1863.2 662.3h0M1684.8 659.2h0M1595.3 660.3h0M1777.5 663.4h0M1745.8 663.3h0M1579.9 663.6h0M1680.4 662.3h0M1770.9 662.1h0M1656.5 660.2h0M1900.2 662.7h0M1835.6 661.6h0M1734 662.5h0M1875.9 656.7h0M1572 661.7h0M1637.5 663h0M1875.6 656.2h0M1735.5 663.3h0M1618.7 662.5h0M1756.7 663.5h0M1811.9 659.2h0M1768.2 661.3h0M1575.8 660.9h0M1572.7 663.2h0M1700.4 661.9h0M1565.6 661.4h0M1589 662.1h0M1781.7 662.9h0M1711.3 662.4h0M1589.5 662.6h0M1862.4 663.1h0M1687.1 659h0M1864.7 662.8h0M1770.2 661h0M1774.2 662.3h0M1706.3 663.6h0M1791.8 658h0M1644 663.6h0M1648.8 661.1h0M1861.8 654.8h0M1630.3 661.1h0M1693.2 662.2h0M1816.9 663.5h0M1673.9 662.4h0M1686.3 663.3h0M1873.7 661.1h0M1631.2 662h0M1643.2 661.6h0M1865.9 659.5h0M1655 659.8h0M1674.1 661.5h0M1864.3 656.6h0M1670.8 660.7h0M1904 663.2h0M1843.3 662.9h0M1852.1 662.8h0M1637.9 661.2h0M1634.9 660.9h0M1819.6 661.8h0M1845.2 658.4h0M1637.5 662.9h0M1631.1 663.7h0M1644 662.7h0M1607.5 660.6h0M1705.3 661.9h0M1733.5 663.4h0M1776.7 661.8h0M1579.1 662.9h0M1626.3 663.4h0M1600.4 661.6h0M1653.2 660.6h0M1624.1 662h0M1883 659.7h0M1688.8 662.8h0M1607.9 663h0M1789.9 662.6h0M1895.7 663.2h0M1834.1 661.7h0M1783.6 658.3h0M1690.5 663.3h0M1699.1 661.6h0M1664.2 662.6h0M1838.1 656.5h0M1837.2 663.4h0M1728.8 660.5h0M1857.4 661.9h0M1785 662.1h0M1796.5 661.4h0M1652.7 663.4h0M1643.3 659.7h0M1638.6 661.2h0M1874.8 656.9h0M1836.1 659.8h0M1870.2 662.7h0M1843.8 660.4h0M1837.7 661.2h0M1710.4 663h0M1824.1 657.5h0M1617.5 662.9h0M1786.2 660.3h0M1574.8 658h0M1893.2 663.3h0M1863.4 662.9h0M1616.9 661.2h0M1825.2 661.9h0M1844.2 658.5h0M1574.5 661.5h0M1755.3 662.9h0M1704.9 662.4h0M1773.5 661.6h0M1865.8 661.6h0M1809.4 659.1h0M1632.8 661.6h0M1751.4 658.6h0M1753.8 662.5h0M1563.9 661.2h0M1605.5 662.7h0M1684 661.7h0M1621.4 661.9h0M1641.9 661.8h0M1793.3 661.4h0M1891.6 660.6h0M1718 660.5h0M1782.9 662.2h0M1822.7 662.9h0M1792.2 660.9h0M1786.7 663h0M1560.4 661.2h0M1860.1 657.6h0M1615.6 661.7h0M1622.3 660.8h0M1735.9 661.4h0M1762.5 658.4h0M1820.7 655.9h0M1661.1 663.6h0M1886.1 663h0M1776.7 661.6h0M1851.2 659.3h0M1724.6 658.4h0M1584.5 663.6h0M1564.2 658.8h0M1780.9 662.5h0M1707 663.7h0M1712 662.1h0M1672.5 661.9h0M1621.5 663.6h0M1723.4 661.3h0M1647.9 663.3h0M1868 662.1h0M1621.7 662.9h0M1893.8 663.1h0M1856.8 663.5h0M1692.4 660.5h0M1826.6 661h0M1760.3 663h0M1720.7 657.7h0M1840.1 660.9h0M1846.6 660.7h0M1629.5 661.7h0M1872.6 655h0M1571.1 661.2h0M1561.9 661.7h0M1726.9 661h0M1664 662.7h0M1705.8 663.2h0M1725.3 660.6h0M1721.6 663.7h0M1873.2 663.3h0M1876.8 661.5h0M1679.4 660.1h0M1659.2 661.4h0M1785.6 663.4h0M1628.5 660.6h0M1698.2 662h0M1807.7 661.6h0M1562 662.1h0M1826.3 660.3h0M1813.2 662.4h0M1693.6 663.1h0M1645.5 662.3h0M1746.3 662.3h0M1662 661.8h0M1843.3 662.4h0M1763.8 656.7h0M1665.8 661h0M1838.7 661.8h0M1769.6 660.4h0M1605.5 663.3h0M1702.8 661.9h0M1729 660.3h0M1885.9 662.2h0M1670.6 661.5h0M1714.7 660.4h0M1897 663.6h0M1707 661.3h0M1845.4 659.6h0M1593.5 663.3h0M1695.9 662.2h0M1623.4 663.3h0M1865 660.5h0M1750.7 660.7h0M1635.4 661.5h0M1591.8 660.9h0M1705.2 662.6h0M1593.3 661.4h0M1727.4 663.3h0M1811.4 658.4h0M1667.1 663.7h0M1617.8 663.1h0M1684.7 663.3h0M1617.3 662.5h0M1851.1 662.4h0M1593.2 663.7h0M1815.6 658.4h0M1675.2 663.6h0M1811.3 660.6h0M1826 662h0M1606.6 663.5h0M1821 663h0M1886.2 659.1h0M1755.6 659.2h0M1782.5 662.7h0M1671.3 662.7h0M1620.2 662.9h0M1816.8 660.4h0M1843.1 658.5h0M1631.1 662.6h0M1599.1 663.7h0M1681.5 661.4h0M1776 660.7h0M1685.9 662.7h0M1892.6 663.2h0M1833.1 662.8h0M1876.1 663.7h0M1766.9 663.2h0M1820.7 661.4h0M1888.1 663.2h0M1572.3 663h0M1758.3 662.8h0M1624.5 662.5h0M1834.3 659.7h0M1640.3 662.6h0M1815.9 662.2h0M1674.8 663.2h0M1784.8 662.3h0M1794.2 656h0M1873.5 660.4h0M1861 662.8h0M1711 663.1h0M1797.7 659.8h0M1622.9 663.4h0M1593.8 659.7h0M1806.4 660.4h0M1872.9 660.9h0M1817.6 661.5h0M1738.3 663.4h0M1777.2 660.7h0M1811.9 663.1h0M1756.4 662.5h0M1685.3 663.5h0M1853.5 660h0M1687.4 663h0M1871.8 660.8h0M1835.8 655.8h0M1833.6 659.1h0M1847.6 654.2h0M1900.5 662.5h0M1901.5 663.5h0M1733 661.5h0M1690.2 663.1h0M1812.9 660.1h0M1893.9 662.4h0M1777.4 662h0M1568.9 661.6h0M1573.3 660.7h0M1720.1 658.7h0M1831.8 662.6h0M1866.2 660.7h0M1689.4 660.6h0M1738.4 662h0M1737 663.1h0M1592.6 661.4h0M1560.3 660.4h0M1740.7 660.9h0M1734 658.4h0M1857.9 661.2h0M1622.7 662.5h0M1854.1 663.6h0M1653.6 661.1h0M1746 662.2h0M1803.9 662.4h0M1610.1 662.1h0M1886.5 656.7h0M1890.5 662.1h0M1894.6 663h0M1560.8 660.3h0M1782 659.4h0M1791.5 659.9h0M1863.6 662.1h0M1629.5 662.3h0M1602.8 662.2h0M1839.3 662.4h0M1650.3 659.9h0M1582.8 660.4h0M1591.7 662h0M1782.6 662.5h0M1744.9 662h0M1818 660.7h0M1838.5 659.5h0M1560.9 662.9h0M1881.9 661.4h0M1863.5 662.8h0M1881.9 658.5h0M1825.2 659.1h0M1692.4 661.9h0M1645.6 663.4h0M1874.8 660.2h0M1705 662.4h0M1728.3 661.5h0M1801 660.5h0M1797.5 662.4h0M1799.2 660.4h0M1775.1 663.2h0M1735.5 659.9h0M1824.6 657.1h0M1696.5 663.3h0M1650.5 660.7h0M1873.6 661.9h0M1851.9 660.9h0M1807.7 657.2h0M1618 663h0M1575.8 660.6h0M1878.2 658.1h0M1885.3 661.2h0M1654 663.2h0M1777.2 663.3h0M1566.3 663.7h0M1695.8 662.9h0M1802.9 657.9h0M1684.6 659.6h0M1838.5 663.5h0M1874.9 660.7h0M1607.3 661.1h0M1797.4 662.3h0M1689.7 662.7h0M1620.2 662.8h0M1680.5 662.2h0M1726.2 661.1h0M1869.1 662h0M1824.1 663.5h0M1561.8 660.6h0M1579.5 663h0M1902.9 663.2h0M1752 662.1h0M1770.5 660.2h0M1681.7 659.1h0M1846.8 656.2h0M1752.2 659.7h0M1764.4 662.2h0M1646.1 663.7h0M1828 663.4h0M1633.9 663.6h0M1607.4 662.1h0M1766.1 662.3h0M1847.2 658.6h0M1661.1 661h0M1664.2 659.1h0M1611.5 658.5h0M1768.1 663.2h0M1825.9 658.2h0M1603.3 662.6h0M1744.6 661.4h0M1746.2 663.7h0M1596.8 661.8h0M1743 660.4h0M1653.8 661.7h0M1628.7 662h0M1900 663.5h0M1591.2 661.3h0M1678.5 660.6h0M1773.4 662.6h0M1699.7 660.5h0M1566.2 662.8h0M1858.9 656.3h0M1642.5 662.2h0M1702.2 663.2h0M1873.4 653.3h0M1894.5 661.9h0M1875.6 660h0M1701.8 662.4h0M1816.7 663.5h0M1852.7 663.3h0M1628 660.4h0M1894.5 662.1h0M1595 662.5h0M1786.9 658.5h0M1642.5 662.6h0M1634.2 662.7h0M1607.4 662.8h0M1885 660.6h0M1604.3 662.9h0M1874.8 659.4h0M1617.2 663.3h0M1600 664.2h0M1602.2 664.2h0M1604.4 664.2h0M1606.6 664.2h0M1608.8 664.2h0M1611 664.2h0M1613.2 664.2h0M1615.4 664.2h0M1617.6 664.2h0M1619.8 664.2h0M1622 664.2h0M1624.2 664.2h0M1626.4 664.2h0M1628.6 664.2h0M1630.8 664.2h0M1633 664.2h0M1635.2 664.2h0M1637.4 664.2h0M1639.6 664.2h0M1641.8 664.2h0M1644 664.2h0M1646.2 664.2h0M1648.4 664.2h0M1650.6 664.2h0M1652.8 664.2h0M1655 664.2h0M1657.2 664.2h0M1659.4 664.2h0M1661.6 664.2h0M1663.8 664.2h0M1666 664.2h0M1668.2 664.2h0M1670.4 664.2h0M1672.6 664.2h0M1674.8 664.2h0M1677 664.2h0M1679.2 664.2h0M1681.4 664.2h0M1683.6 664.2h0M1685.8 664.2h0M1688 664.2h0M1690.2 664.2h0M1692.4 664.2h0M1694.6 664.2h0M1696.8 664.2h0M1699 664.2h0M1701.2 664.2h0M1703.4 664.2h0M1705.6 664.2h0M1707.8 664.2h0M1710 664.2h0M1712.2 664.2h0M1714.4 664.2h0M1716.6 664.2h0M1718.8 664.2h0M1721 664.2h0M1723.2 664.2h0M1725.4 664.2h0M1727.6 664.2h0M1729.8 664.2h0M1732 664.2h0M1734.2 664.2h0M1736.4 664.2h0M1738.6 664.2h0M1740.8 664.2h0M1743 664.2h0M1745.2 664.2h0M1747.4 664.2h0M1749.6 664.2h0M1751.8 664.2h0M1754 664.2h0M1756.2 664.2h0M1758.4 664.2h0M1760.6 664.2h0M1762.8 664.2h0M1765 664.2h0M1767.2 664.2h0M1769.4 664.2h0M1771.6 664.2h0M1773.8 664.2h0M1776 664.2h0M1778.2 664.2h0M1780.4 664.2h0M1782.6 664.2h0M1784.8 664.2h0M1787 664.2h0M1789.2 664.2h0M1791.4 664.2h0M1793.6 664.2h0M1795.8 664.2h0M1798 664.2h0M1800.2 664.2h0M1802.4 664.2h0M1804.6 664.2h0M1806.8 664.2h0M1809 664.2h0M1811.2 664.2h0M1813.4 664.2h0M1815.6 664.2h0M1817.8 664.2h0M1820 664.2h0M1822.2 664.2h0M1824.4 664.2h0M1826.6 664.2h0M1828.8 664.2h0M1831 664.2h0M1833.2 664.2h0M1835.4 664.2h0M1837.6 664.2h0M1839.8 664.2h0M1842 664.2h0M1844.2 664.2h0M1846.4 664.2h0M1848.6 664.2h0M1850.8 664.2h0M1853 664.2h0M1855.2 664.2h0M1857.4 664.2h0M1859.6 664.2h0M1861.8 664.2h0M1864 664.2h0M1866.2 664.2h0M1868.4 664.2h0M1870.6 664.2h0M1872.8 664.2h0M1875 664.2h0M1877.2 664.2h0M1879.4 664.2h0M1881.6 664.2h0M1883.8 664.2h0M1886 664.2h0M1888.2 664.2h0M1890.4 664.2h0M1892.6 664.2h0M1894.8 664.2h0M1897 664.2h0M1899.2 664.2h0M1901.4 664.2h0M1903.6 664.2h0M1897 646h0M1792 638h0M1745.6 651h0" fill="none" stroke="#0cb14b" stroke-width="7.2" stroke-linecap="round"/>
</g>
<g id="labels">
<text x="4.2" y="35.3" font-size="44" text-anchor="start">A</text>
<text x="120.8" y="41.7" font-size="38.6" text-anchor="end">100</text>
<text x="120.8" y="168.5" font-size="38.6" text-anchor="end">80</text>
<text x="120.8" y="295.3" font-size="38.6" text-anchor="end">60</text>
<text x="120.8" y="422.1" font-size="38.6" text-anchor="end">40</text>
<text x="120.8" y="548.9" font-size="38.6" text-anchor="end">20</text>
<text x="120.8" y="675.7" font-size="38.6" text-anchor="end">0</text>
<text x="148.2" y="713" font-size="38.6" text-anchor="middle">0</text>
<text x="418.8" y="713" font-size="38.6" text-anchor="middle">10</text>
<text x="689.4" y="713" font-size="38.6" text-anchor="middle">20</text>
<text x="960" y="713" font-size="38.6" text-anchor="middle">30</text>
<text x="556.2" y="782.6" font-size="47.3" text-anchor="middle">Time (minutes)</text>
<text transform="translate(38.9 348) rotate(-90)" font-size="47.2" text-anchor="middle">EI (%)</text>
<text x="603" y="332.4" font-size="31.5" text-anchor="start">Normal</text>
<text x="435" y="446" font-size="31.5" text-anchor="start" textLength="57" lengthAdjust="spacingAndGlyphs">SCD</text>
<text x="1050.2" y="42" font-size="45.5" text-anchor="start" textLength="27.6" lengthAdjust="spacingAndGlyphs">B</text>
<text x="1167.6" y="47.1" font-size="37.8" text-anchor="end">100</text>
<text x="1167.6" y="172.9" font-size="37.8" text-anchor="end">80</text>
<text x="1167.6" y="298.7" font-size="37.8" text-anchor="end">60</text>
<text x="1167.6" y="424.4" font-size="37.8" text-anchor="end">40</text>
<text x="1167.6" y="550.2" font-size="37.8" text-anchor="end">20</text>
<text x="1167.6" y="676" font-size="37.8" text-anchor="end">0</text>
<text x="1195.4" y="713" font-size="36.4" text-anchor="middle">0</text>
<text x="1458.4" y="713" font-size="36.4" text-anchor="middle">10</text>
<text x="1721.4" y="713" font-size="36.4" text-anchor="middle">20</text>
<text x="1984.4" y="713" font-size="36.4" text-anchor="middle">30</text>
<text x="1588.6" y="778.9" font-size="46" text-anchor="middle">Time (minutes)</text>
<text transform="translate(1089.5 350) rotate(-90)" font-size="47" text-anchor="middle">EI (%)</text>
<text x="1624" y="265.3" font-size="30.5" text-anchor="start" textLength="112" lengthAdjust="spacingAndGlyphs">0.3 mM</text>
<text x="1520" y="346.6" font-size="30.5" text-anchor="start" textLength="109" lengthAdjust="spacingAndGlyphs">0.6 mM</text>
<text x="1408" y="420.6" font-size="30.5" text-anchor="start" textLength="109" lengthAdjust="spacingAndGlyphs">1.2 mM</text>
</g>
</g>
</svg>
</body>
</html>
